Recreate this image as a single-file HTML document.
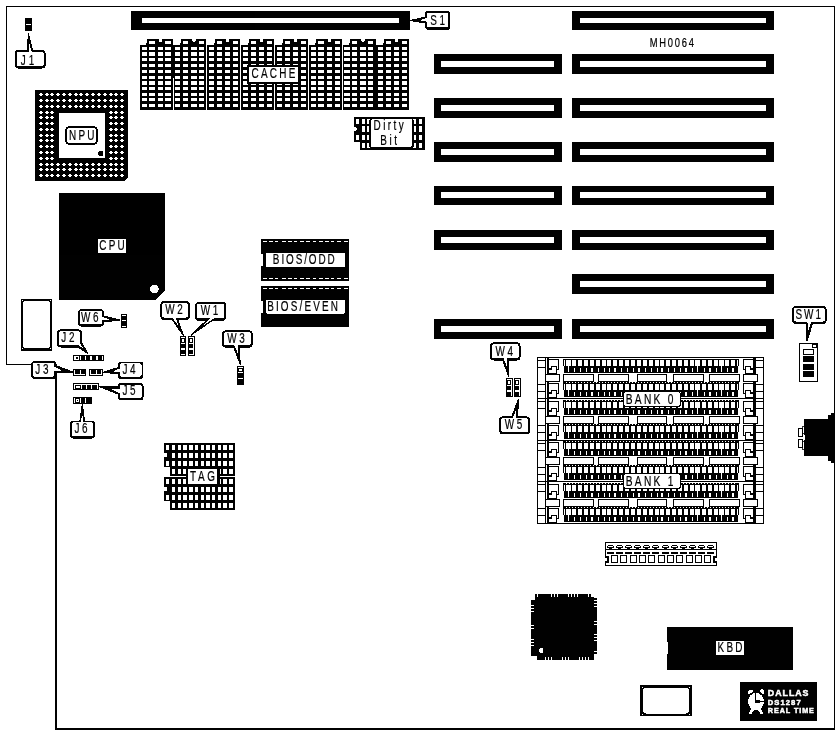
<!DOCTYPE html>
<html lang="en"><head><meta charset="utf-8"><title>MH0064 motherboard layout</title>
<style>html,body{margin:0;padding:0;background:#fff}svg{display:block;will-change:transform;opacity:0.9999}text{white-space:pre}</style>
</head><body>
<svg width="840" height="735" viewBox="0 0 840 735">
<rect width="840" height="735" fill="#fff"/>
<g shape-rendering="crispEdges">
<rect x="6" y="6" width="829" height="1" fill="#000" />
<rect x="6" y="6" width="1" height="359" fill="#000" />
<rect x="6" y="364" width="50" height="1" fill="#000" />
<rect x="55" y="364" width="2" height="366" fill="#000" />
<rect x="55" y="728" width="780" height="2" fill="#000" />
<rect x="834" y="6" width="1" height="724" fill="#000" />
<rect x="131" y="11" width="279" height="19" fill="#000" />
<rect x="142" y="18" width="257" height="5" fill="#fff" />
<rect x="434" y="54" width="128" height="20" fill="#000" />
<rect x="441" y="61" width="113" height="6" fill="#fff" />
<rect x="434" y="98" width="128" height="20" fill="#000" />
<rect x="441" y="105" width="113" height="6" fill="#fff" />
<rect x="434" y="142" width="128" height="20" fill="#000" />
<rect x="441" y="149" width="113" height="6" fill="#fff" />
<rect x="434" y="186" width="128" height="19" fill="#000" />
<rect x="441" y="192" width="113" height="6" fill="#fff" />
<rect x="434" y="230" width="128" height="20" fill="#000" />
<rect x="441" y="237" width="113" height="6" fill="#fff" />
<rect x="434" y="319" width="128" height="20" fill="#000" />
<rect x="441" y="326" width="113" height="6" fill="#fff" />
<rect x="572" y="11" width="202" height="19" fill="#000" />
<rect x="580" y="18" width="186" height="5" fill="#fff" />
<rect x="572" y="54" width="202" height="20" fill="#000" />
<rect x="580" y="61" width="186" height="6" fill="#fff" />
<rect x="572" y="98" width="202" height="20" fill="#000" />
<rect x="580" y="105" width="186" height="6" fill="#fff" />
<rect x="572" y="142" width="202" height="20" fill="#000" />
<rect x="580" y="149" width="186" height="6" fill="#fff" />
<rect x="572" y="186" width="202" height="19" fill="#000" />
<rect x="580" y="192" width="186" height="6" fill="#fff" />
<rect x="572" y="230" width="202" height="20" fill="#000" />
<rect x="580" y="237" width="186" height="6" fill="#fff" />
<rect x="572" y="274" width="202" height="20" fill="#000" />
<rect x="580" y="281" width="186" height="6" fill="#fff" />
<rect x="572" y="319" width="202" height="20" fill="#000" />
<rect x="580" y="326" width="186" height="6" fill="#fff" />
<rect x="140" y="45" width="269" height="65" fill="#000" />
<path d="M146,46 V43 H147 V39 H159 V40 L159.5,42 H161.5 L162,40 V39 H173 V46 Z" fill="#000"/>
<rect x="142" y="47" width="5" height="3" fill="#fff" />
<rect x="142" y="52" width="5" height="4" fill="#fff" />
<rect x="142" y="58" width="5" height="3" fill="#fff" />
<rect x="142" y="64" width="5" height="3" fill="#fff" />
<rect x="142" y="70" width="5" height="3" fill="#fff" />
<rect x="142" y="76" width="5" height="3" fill="#fff" />
<rect x="142" y="81" width="5" height="4" fill="#fff" />
<rect x="142" y="87" width="5" height="3" fill="#fff" />
<rect x="142" y="93" width="5" height="3" fill="#fff" />
<rect x="142" y="98" width="5" height="3" fill="#fff" />
<rect x="142" y="104" width="5" height="3" fill="#fff" />
<rect x="149" y="47" width="6" height="3" fill="#fff" />
<rect x="149" y="52" width="6" height="4" fill="#fff" />
<rect x="149" y="58" width="6" height="3" fill="#fff" />
<rect x="149" y="64" width="6" height="3" fill="#fff" />
<rect x="149" y="70" width="6" height="3" fill="#fff" />
<rect x="149" y="76" width="6" height="3" fill="#fff" />
<rect x="149" y="81" width="6" height="4" fill="#fff" />
<rect x="149" y="87" width="6" height="3" fill="#fff" />
<rect x="149" y="93" width="6" height="3" fill="#fff" />
<rect x="149" y="98" width="6" height="3" fill="#fff" />
<rect x="149" y="104" width="6" height="3" fill="#fff" />
<rect x="149" y="41" width="6" height="3" fill="#fff" />
<rect x="158" y="47" width="5" height="3" fill="#fff" />
<rect x="158" y="52" width="5" height="4" fill="#fff" />
<rect x="158" y="58" width="5" height="3" fill="#fff" />
<rect x="158" y="64" width="5" height="3" fill="#fff" />
<rect x="158" y="70" width="5" height="3" fill="#fff" />
<rect x="158" y="76" width="5" height="3" fill="#fff" />
<rect x="158" y="81" width="5" height="4" fill="#fff" />
<rect x="158" y="87" width="5" height="3" fill="#fff" />
<rect x="158" y="93" width="5" height="3" fill="#fff" />
<rect x="158" y="98" width="5" height="3" fill="#fff" />
<rect x="158" y="104" width="5" height="3" fill="#fff" />
<rect x="165" y="47" width="6" height="3" fill="#fff" />
<rect x="165" y="52" width="6" height="4" fill="#fff" />
<rect x="165" y="58" width="6" height="3" fill="#fff" />
<rect x="165" y="64" width="6" height="3" fill="#fff" />
<rect x="165" y="70" width="6" height="3" fill="#fff" />
<rect x="165" y="76" width="6" height="3" fill="#fff" />
<rect x="165" y="81" width="6" height="4" fill="#fff" />
<rect x="165" y="87" width="6" height="3" fill="#fff" />
<rect x="165" y="93" width="6" height="3" fill="#fff" />
<rect x="165" y="98" width="6" height="3" fill="#fff" />
<rect x="165" y="104" width="6" height="3" fill="#fff" />
<rect x="165" y="41" width="6" height="3" fill="#fff" />
<path d="M180,46 V43 H181 V39 H192 V40 L193.0,42 H195.0 L196,40 V39 H206 V46 Z" fill="#000"/>
<rect x="175" y="47" width="5" height="3" fill="#fff" />
<rect x="175" y="52" width="5" height="4" fill="#fff" />
<rect x="175" y="58" width="5" height="3" fill="#fff" />
<rect x="175" y="64" width="5" height="3" fill="#fff" />
<rect x="175" y="70" width="5" height="3" fill="#fff" />
<rect x="175" y="76" width="5" height="3" fill="#fff" />
<rect x="175" y="81" width="5" height="4" fill="#fff" />
<rect x="175" y="87" width="5" height="3" fill="#fff" />
<rect x="175" y="93" width="5" height="3" fill="#fff" />
<rect x="175" y="98" width="5" height="3" fill="#fff" />
<rect x="175" y="104" width="5" height="3" fill="#fff" />
<rect x="183" y="47" width="5" height="3" fill="#fff" />
<rect x="183" y="52" width="5" height="4" fill="#fff" />
<rect x="183" y="58" width="5" height="3" fill="#fff" />
<rect x="183" y="64" width="5" height="3" fill="#fff" />
<rect x="183" y="70" width="5" height="3" fill="#fff" />
<rect x="183" y="76" width="5" height="3" fill="#fff" />
<rect x="183" y="81" width="5" height="4" fill="#fff" />
<rect x="183" y="87" width="5" height="3" fill="#fff" />
<rect x="183" y="93" width="5" height="3" fill="#fff" />
<rect x="183" y="98" width="5" height="3" fill="#fff" />
<rect x="183" y="104" width="5" height="3" fill="#fff" />
<rect x="183" y="41" width="5" height="3" fill="#fff" />
<rect x="191" y="47" width="6" height="3" fill="#fff" />
<rect x="191" y="52" width="6" height="4" fill="#fff" />
<rect x="191" y="58" width="6" height="3" fill="#fff" />
<rect x="191" y="64" width="6" height="3" fill="#fff" />
<rect x="191" y="70" width="6" height="3" fill="#fff" />
<rect x="191" y="76" width="6" height="3" fill="#fff" />
<rect x="191" y="81" width="6" height="4" fill="#fff" />
<rect x="191" y="87" width="6" height="3" fill="#fff" />
<rect x="191" y="93" width="6" height="3" fill="#fff" />
<rect x="191" y="98" width="6" height="3" fill="#fff" />
<rect x="191" y="104" width="6" height="3" fill="#fff" />
<rect x="199" y="47" width="5" height="3" fill="#fff" />
<rect x="199" y="52" width="5" height="4" fill="#fff" />
<rect x="199" y="58" width="5" height="3" fill="#fff" />
<rect x="199" y="64" width="5" height="3" fill="#fff" />
<rect x="199" y="70" width="5" height="3" fill="#fff" />
<rect x="199" y="76" width="5" height="3" fill="#fff" />
<rect x="199" y="81" width="5" height="4" fill="#fff" />
<rect x="199" y="87" width="5" height="3" fill="#fff" />
<rect x="199" y="93" width="5" height="3" fill="#fff" />
<rect x="199" y="98" width="5" height="3" fill="#fff" />
<rect x="199" y="104" width="5" height="3" fill="#fff" />
<rect x="199" y="41" width="5" height="3" fill="#fff" />
<path d="M214,46 V43 H215 V39 H226 V40 L226.5,42 H228.5 L229,40 V39 H240 V46 Z" fill="#000"/>
<rect x="209" y="47" width="5" height="3" fill="#fff" />
<rect x="209" y="52" width="5" height="4" fill="#fff" />
<rect x="209" y="58" width="5" height="3" fill="#fff" />
<rect x="209" y="64" width="5" height="3" fill="#fff" />
<rect x="209" y="70" width="5" height="3" fill="#fff" />
<rect x="209" y="76" width="5" height="3" fill="#fff" />
<rect x="209" y="81" width="5" height="4" fill="#fff" />
<rect x="209" y="87" width="5" height="3" fill="#fff" />
<rect x="209" y="93" width="5" height="3" fill="#fff" />
<rect x="209" y="98" width="5" height="3" fill="#fff" />
<rect x="209" y="104" width="5" height="3" fill="#fff" />
<rect x="217" y="47" width="5" height="3" fill="#fff" />
<rect x="217" y="52" width="5" height="4" fill="#fff" />
<rect x="217" y="58" width="5" height="3" fill="#fff" />
<rect x="217" y="64" width="5" height="3" fill="#fff" />
<rect x="217" y="70" width="5" height="3" fill="#fff" />
<rect x="217" y="76" width="5" height="3" fill="#fff" />
<rect x="217" y="81" width="5" height="4" fill="#fff" />
<rect x="217" y="87" width="5" height="3" fill="#fff" />
<rect x="217" y="93" width="5" height="3" fill="#fff" />
<rect x="217" y="98" width="5" height="3" fill="#fff" />
<rect x="217" y="104" width="5" height="3" fill="#fff" />
<rect x="217" y="41" width="5" height="3" fill="#fff" />
<rect x="225" y="47" width="5" height="3" fill="#fff" />
<rect x="225" y="52" width="5" height="4" fill="#fff" />
<rect x="225" y="58" width="5" height="3" fill="#fff" />
<rect x="225" y="64" width="5" height="3" fill="#fff" />
<rect x="225" y="70" width="5" height="3" fill="#fff" />
<rect x="225" y="76" width="5" height="3" fill="#fff" />
<rect x="225" y="81" width="5" height="4" fill="#fff" />
<rect x="225" y="87" width="5" height="3" fill="#fff" />
<rect x="225" y="93" width="5" height="3" fill="#fff" />
<rect x="225" y="98" width="5" height="3" fill="#fff" />
<rect x="225" y="104" width="5" height="3" fill="#fff" />
<rect x="233" y="47" width="5" height="3" fill="#fff" />
<rect x="233" y="52" width="5" height="4" fill="#fff" />
<rect x="233" y="58" width="5" height="3" fill="#fff" />
<rect x="233" y="64" width="5" height="3" fill="#fff" />
<rect x="233" y="70" width="5" height="3" fill="#fff" />
<rect x="233" y="76" width="5" height="3" fill="#fff" />
<rect x="233" y="81" width="5" height="4" fill="#fff" />
<rect x="233" y="87" width="5" height="3" fill="#fff" />
<rect x="233" y="93" width="5" height="3" fill="#fff" />
<rect x="233" y="98" width="5" height="3" fill="#fff" />
<rect x="233" y="104" width="5" height="3" fill="#fff" />
<rect x="233" y="41" width="5" height="3" fill="#fff" />
<path d="M248,46 V43 H249 V39 H260 V40 L260.5,42 H262.5 L263,40 V39 H274 V46 Z" fill="#000"/>
<rect x="243" y="47" width="5" height="3" fill="#fff" />
<rect x="243" y="52" width="5" height="4" fill="#fff" />
<rect x="243" y="58" width="5" height="3" fill="#fff" />
<rect x="243" y="64" width="5" height="3" fill="#fff" />
<rect x="243" y="70" width="5" height="3" fill="#fff" />
<rect x="243" y="76" width="5" height="3" fill="#fff" />
<rect x="243" y="81" width="5" height="4" fill="#fff" />
<rect x="243" y="87" width="5" height="3" fill="#fff" />
<rect x="243" y="93" width="5" height="3" fill="#fff" />
<rect x="243" y="98" width="5" height="3" fill="#fff" />
<rect x="243" y="104" width="5" height="3" fill="#fff" />
<rect x="251" y="47" width="5" height="3" fill="#fff" />
<rect x="251" y="52" width="5" height="4" fill="#fff" />
<rect x="251" y="58" width="5" height="3" fill="#fff" />
<rect x="251" y="64" width="5" height="3" fill="#fff" />
<rect x="251" y="70" width="5" height="3" fill="#fff" />
<rect x="251" y="76" width="5" height="3" fill="#fff" />
<rect x="251" y="81" width="5" height="4" fill="#fff" />
<rect x="251" y="87" width="5" height="3" fill="#fff" />
<rect x="251" y="93" width="5" height="3" fill="#fff" />
<rect x="251" y="98" width="5" height="3" fill="#fff" />
<rect x="251" y="104" width="5" height="3" fill="#fff" />
<rect x="251" y="41" width="5" height="3" fill="#fff" />
<rect x="259" y="47" width="5" height="3" fill="#fff" />
<rect x="259" y="52" width="5" height="4" fill="#fff" />
<rect x="259" y="58" width="5" height="3" fill="#fff" />
<rect x="259" y="64" width="5" height="3" fill="#fff" />
<rect x="259" y="70" width="5" height="3" fill="#fff" />
<rect x="259" y="76" width="5" height="3" fill="#fff" />
<rect x="259" y="81" width="5" height="4" fill="#fff" />
<rect x="259" y="87" width="5" height="3" fill="#fff" />
<rect x="259" y="93" width="5" height="3" fill="#fff" />
<rect x="259" y="98" width="5" height="3" fill="#fff" />
<rect x="259" y="104" width="5" height="3" fill="#fff" />
<rect x="267" y="47" width="5" height="3" fill="#fff" />
<rect x="267" y="52" width="5" height="4" fill="#fff" />
<rect x="267" y="58" width="5" height="3" fill="#fff" />
<rect x="267" y="64" width="5" height="3" fill="#fff" />
<rect x="267" y="70" width="5" height="3" fill="#fff" />
<rect x="267" y="76" width="5" height="3" fill="#fff" />
<rect x="267" y="81" width="5" height="4" fill="#fff" />
<rect x="267" y="87" width="5" height="3" fill="#fff" />
<rect x="267" y="93" width="5" height="3" fill="#fff" />
<rect x="267" y="98" width="5" height="3" fill="#fff" />
<rect x="267" y="104" width="5" height="3" fill="#fff" />
<rect x="267" y="41" width="5" height="3" fill="#fff" />
<path d="M282,46 V43 H283 V39 H294 V40 L294.5,42 H296.5 L297,40 V39 H308 V46 Z" fill="#000"/>
<rect x="277" y="47" width="5" height="3" fill="#fff" />
<rect x="277" y="52" width="5" height="4" fill="#fff" />
<rect x="277" y="58" width="5" height="3" fill="#fff" />
<rect x="277" y="64" width="5" height="3" fill="#fff" />
<rect x="277" y="70" width="5" height="3" fill="#fff" />
<rect x="277" y="76" width="5" height="3" fill="#fff" />
<rect x="277" y="81" width="5" height="4" fill="#fff" />
<rect x="277" y="87" width="5" height="3" fill="#fff" />
<rect x="277" y="93" width="5" height="3" fill="#fff" />
<rect x="277" y="98" width="5" height="3" fill="#fff" />
<rect x="277" y="104" width="5" height="3" fill="#fff" />
<rect x="285" y="47" width="5" height="3" fill="#fff" />
<rect x="285" y="52" width="5" height="4" fill="#fff" />
<rect x="285" y="58" width="5" height="3" fill="#fff" />
<rect x="285" y="64" width="5" height="3" fill="#fff" />
<rect x="285" y="70" width="5" height="3" fill="#fff" />
<rect x="285" y="76" width="5" height="3" fill="#fff" />
<rect x="285" y="81" width="5" height="4" fill="#fff" />
<rect x="285" y="87" width="5" height="3" fill="#fff" />
<rect x="285" y="93" width="5" height="3" fill="#fff" />
<rect x="285" y="98" width="5" height="3" fill="#fff" />
<rect x="285" y="104" width="5" height="3" fill="#fff" />
<rect x="285" y="41" width="5" height="3" fill="#fff" />
<rect x="293" y="47" width="5" height="3" fill="#fff" />
<rect x="293" y="52" width="5" height="4" fill="#fff" />
<rect x="293" y="58" width="5" height="3" fill="#fff" />
<rect x="293" y="64" width="5" height="3" fill="#fff" />
<rect x="293" y="70" width="5" height="3" fill="#fff" />
<rect x="293" y="76" width="5" height="3" fill="#fff" />
<rect x="293" y="81" width="5" height="4" fill="#fff" />
<rect x="293" y="87" width="5" height="3" fill="#fff" />
<rect x="293" y="93" width="5" height="3" fill="#fff" />
<rect x="293" y="98" width="5" height="3" fill="#fff" />
<rect x="293" y="104" width="5" height="3" fill="#fff" />
<rect x="301" y="47" width="5" height="3" fill="#fff" />
<rect x="301" y="52" width="5" height="4" fill="#fff" />
<rect x="301" y="58" width="5" height="3" fill="#fff" />
<rect x="301" y="64" width="5" height="3" fill="#fff" />
<rect x="301" y="70" width="5" height="3" fill="#fff" />
<rect x="301" y="76" width="5" height="3" fill="#fff" />
<rect x="301" y="81" width="5" height="4" fill="#fff" />
<rect x="301" y="87" width="5" height="3" fill="#fff" />
<rect x="301" y="93" width="5" height="3" fill="#fff" />
<rect x="301" y="98" width="5" height="3" fill="#fff" />
<rect x="301" y="104" width="5" height="3" fill="#fff" />
<rect x="301" y="41" width="5" height="3" fill="#fff" />
<path d="M315,46 V43 H316 V39 H328 V40 L328.5,42 H330.5 L331,40 V39 H342 V46 Z" fill="#000"/>
<rect x="311" y="47" width="5" height="3" fill="#fff" />
<rect x="311" y="52" width="5" height="4" fill="#fff" />
<rect x="311" y="58" width="5" height="3" fill="#fff" />
<rect x="311" y="64" width="5" height="3" fill="#fff" />
<rect x="311" y="70" width="5" height="3" fill="#fff" />
<rect x="311" y="76" width="5" height="3" fill="#fff" />
<rect x="311" y="81" width="5" height="4" fill="#fff" />
<rect x="311" y="87" width="5" height="3" fill="#fff" />
<rect x="311" y="93" width="5" height="3" fill="#fff" />
<rect x="311" y="98" width="5" height="3" fill="#fff" />
<rect x="311" y="104" width="5" height="3" fill="#fff" />
<rect x="318" y="47" width="6" height="3" fill="#fff" />
<rect x="318" y="52" width="6" height="4" fill="#fff" />
<rect x="318" y="58" width="6" height="3" fill="#fff" />
<rect x="318" y="64" width="6" height="3" fill="#fff" />
<rect x="318" y="70" width="6" height="3" fill="#fff" />
<rect x="318" y="76" width="6" height="3" fill="#fff" />
<rect x="318" y="81" width="6" height="4" fill="#fff" />
<rect x="318" y="87" width="6" height="3" fill="#fff" />
<rect x="318" y="93" width="6" height="3" fill="#fff" />
<rect x="318" y="98" width="6" height="3" fill="#fff" />
<rect x="318" y="104" width="6" height="3" fill="#fff" />
<rect x="318" y="41" width="6" height="3" fill="#fff" />
<rect x="327" y="47" width="5" height="3" fill="#fff" />
<rect x="327" y="52" width="5" height="4" fill="#fff" />
<rect x="327" y="58" width="5" height="3" fill="#fff" />
<rect x="327" y="64" width="5" height="3" fill="#fff" />
<rect x="327" y="70" width="5" height="3" fill="#fff" />
<rect x="327" y="76" width="5" height="3" fill="#fff" />
<rect x="327" y="81" width="5" height="4" fill="#fff" />
<rect x="327" y="87" width="5" height="3" fill="#fff" />
<rect x="327" y="93" width="5" height="3" fill="#fff" />
<rect x="327" y="98" width="5" height="3" fill="#fff" />
<rect x="327" y="104" width="5" height="3" fill="#fff" />
<rect x="335" y="47" width="5" height="3" fill="#fff" />
<rect x="335" y="52" width="5" height="4" fill="#fff" />
<rect x="335" y="58" width="5" height="3" fill="#fff" />
<rect x="335" y="64" width="5" height="3" fill="#fff" />
<rect x="335" y="70" width="5" height="3" fill="#fff" />
<rect x="335" y="76" width="5" height="3" fill="#fff" />
<rect x="335" y="81" width="5" height="4" fill="#fff" />
<rect x="335" y="87" width="5" height="3" fill="#fff" />
<rect x="335" y="93" width="5" height="3" fill="#fff" />
<rect x="335" y="98" width="5" height="3" fill="#fff" />
<rect x="335" y="104" width="5" height="3" fill="#fff" />
<rect x="335" y="41" width="5" height="3" fill="#fff" />
<path d="M349,46 V43 H350 V39 H361 V40 L362.0,42 H364.0 L365,40 V39 H376 V46 Z" fill="#000"/>
<rect x="344" y="47" width="6" height="3" fill="#fff" />
<rect x="344" y="52" width="6" height="4" fill="#fff" />
<rect x="344" y="58" width="6" height="3" fill="#fff" />
<rect x="344" y="64" width="6" height="3" fill="#fff" />
<rect x="344" y="70" width="6" height="3" fill="#fff" />
<rect x="344" y="76" width="6" height="3" fill="#fff" />
<rect x="344" y="81" width="6" height="4" fill="#fff" />
<rect x="344" y="87" width="6" height="3" fill="#fff" />
<rect x="344" y="93" width="6" height="3" fill="#fff" />
<rect x="344" y="98" width="6" height="3" fill="#fff" />
<rect x="344" y="104" width="6" height="3" fill="#fff" />
<rect x="352" y="47" width="5" height="3" fill="#fff" />
<rect x="352" y="52" width="5" height="4" fill="#fff" />
<rect x="352" y="58" width="5" height="3" fill="#fff" />
<rect x="352" y="64" width="5" height="3" fill="#fff" />
<rect x="352" y="70" width="5" height="3" fill="#fff" />
<rect x="352" y="76" width="5" height="3" fill="#fff" />
<rect x="352" y="81" width="5" height="4" fill="#fff" />
<rect x="352" y="87" width="5" height="3" fill="#fff" />
<rect x="352" y="93" width="5" height="3" fill="#fff" />
<rect x="352" y="98" width="5" height="3" fill="#fff" />
<rect x="352" y="104" width="5" height="3" fill="#fff" />
<rect x="352" y="41" width="5" height="3" fill="#fff" />
<rect x="360" y="47" width="6" height="3" fill="#fff" />
<rect x="360" y="52" width="6" height="4" fill="#fff" />
<rect x="360" y="58" width="6" height="3" fill="#fff" />
<rect x="360" y="64" width="6" height="3" fill="#fff" />
<rect x="360" y="70" width="6" height="3" fill="#fff" />
<rect x="360" y="76" width="6" height="3" fill="#fff" />
<rect x="360" y="81" width="6" height="4" fill="#fff" />
<rect x="360" y="87" width="6" height="3" fill="#fff" />
<rect x="360" y="93" width="6" height="3" fill="#fff" />
<rect x="360" y="98" width="6" height="3" fill="#fff" />
<rect x="360" y="104" width="6" height="3" fill="#fff" />
<rect x="368" y="47" width="5" height="3" fill="#fff" />
<rect x="368" y="52" width="5" height="4" fill="#fff" />
<rect x="368" y="58" width="5" height="3" fill="#fff" />
<rect x="368" y="64" width="5" height="3" fill="#fff" />
<rect x="368" y="70" width="5" height="3" fill="#fff" />
<rect x="368" y="76" width="5" height="3" fill="#fff" />
<rect x="368" y="81" width="5" height="4" fill="#fff" />
<rect x="368" y="87" width="5" height="3" fill="#fff" />
<rect x="368" y="93" width="5" height="3" fill="#fff" />
<rect x="368" y="98" width="5" height="3" fill="#fff" />
<rect x="368" y="104" width="5" height="3" fill="#fff" />
<rect x="368" y="41" width="5" height="3" fill="#fff" />
<path d="M383,46 V43 H384 V39 H395 V40 L395.5,42 H397.5 L398,40 V39 H409 V46 Z" fill="#000"/>
<rect x="378" y="47" width="5" height="3" fill="#fff" />
<rect x="378" y="52" width="5" height="4" fill="#fff" />
<rect x="378" y="58" width="5" height="3" fill="#fff" />
<rect x="378" y="64" width="5" height="3" fill="#fff" />
<rect x="378" y="70" width="5" height="3" fill="#fff" />
<rect x="378" y="76" width="5" height="3" fill="#fff" />
<rect x="378" y="81" width="5" height="4" fill="#fff" />
<rect x="378" y="87" width="5" height="3" fill="#fff" />
<rect x="378" y="93" width="5" height="3" fill="#fff" />
<rect x="378" y="98" width="5" height="3" fill="#fff" />
<rect x="378" y="104" width="5" height="3" fill="#fff" />
<rect x="386" y="47" width="5" height="3" fill="#fff" />
<rect x="386" y="52" width="5" height="4" fill="#fff" />
<rect x="386" y="58" width="5" height="3" fill="#fff" />
<rect x="386" y="64" width="5" height="3" fill="#fff" />
<rect x="386" y="70" width="5" height="3" fill="#fff" />
<rect x="386" y="76" width="5" height="3" fill="#fff" />
<rect x="386" y="81" width="5" height="4" fill="#fff" />
<rect x="386" y="87" width="5" height="3" fill="#fff" />
<rect x="386" y="93" width="5" height="3" fill="#fff" />
<rect x="386" y="98" width="5" height="3" fill="#fff" />
<rect x="386" y="104" width="5" height="3" fill="#fff" />
<rect x="386" y="41" width="5" height="3" fill="#fff" />
<rect x="394" y="47" width="5" height="3" fill="#fff" />
<rect x="394" y="52" width="5" height="4" fill="#fff" />
<rect x="394" y="58" width="5" height="3" fill="#fff" />
<rect x="394" y="64" width="5" height="3" fill="#fff" />
<rect x="394" y="70" width="5" height="3" fill="#fff" />
<rect x="394" y="76" width="5" height="3" fill="#fff" />
<rect x="394" y="81" width="5" height="4" fill="#fff" />
<rect x="394" y="87" width="5" height="3" fill="#fff" />
<rect x="394" y="93" width="5" height="3" fill="#fff" />
<rect x="394" y="98" width="5" height="3" fill="#fff" />
<rect x="394" y="104" width="5" height="3" fill="#fff" />
<rect x="402" y="47" width="5" height="3" fill="#fff" />
<rect x="402" y="52" width="5" height="4" fill="#fff" />
<rect x="402" y="58" width="5" height="3" fill="#fff" />
<rect x="402" y="64" width="5" height="3" fill="#fff" />
<rect x="402" y="70" width="5" height="3" fill="#fff" />
<rect x="402" y="76" width="5" height="3" fill="#fff" />
<rect x="402" y="81" width="5" height="4" fill="#fff" />
<rect x="402" y="87" width="5" height="3" fill="#fff" />
<rect x="402" y="93" width="5" height="3" fill="#fff" />
<rect x="402" y="98" width="5" height="3" fill="#fff" />
<rect x="402" y="104" width="5" height="3" fill="#fff" />
<rect x="402" y="41" width="5" height="3" fill="#fff" />
<rect x="173" y="78" width="1" height="32" fill="#fff" />
<rect x="206" y="45" width="1" height="65" fill="#fff" />
<rect x="240" y="45" width="1" height="65" fill="#fff" />
<rect x="274" y="45" width="1" height="65" fill="#fff" />
<rect x="308" y="45" width="1" height="65" fill="#fff" />
<rect x="342" y="45" width="1" height="65" fill="#fff" />
<rect x="247" y="65" width="53" height="19" fill="#000" />
<rect x="249" y="67" width="49" height="15" fill="#fff" />
<text transform="translate(274.55,78) scale(0.72,1)" font-family="Liberation Sans, Arial, Helvetica, sans-serif" font-size="13.8" letter-spacing="3.19" text-anchor="middle" fill="#000" font-weight="normal" stroke="#000" stroke-width="0.2">CACHE</text>
<path d="M35,90 H128 V177.5 L124.5,181 H35 Z" fill="#000"/>
<rect x="39" y="94" width="4" height="1" fill="#fff" />
<rect x="40" y="93" width="2" height="3" fill="#fff" />
<rect x="39" y="100" width="4" height="1" fill="#fff" />
<rect x="40" y="99" width="2" height="3" fill="#fff" />
<rect x="39" y="106" width="4" height="1" fill="#fff" />
<rect x="40" y="105" width="2" height="3" fill="#fff" />
<rect x="39" y="112" width="4" height="1" fill="#fff" />
<rect x="40" y="111" width="2" height="3" fill="#fff" />
<rect x="39" y="117" width="4" height="1" fill="#fff" />
<rect x="40" y="116" width="2" height="3" fill="#fff" />
<rect x="39" y="123" width="4" height="1" fill="#fff" />
<rect x="40" y="122" width="2" height="3" fill="#fff" />
<rect x="39" y="129" width="4" height="1" fill="#fff" />
<rect x="40" y="128" width="2" height="3" fill="#fff" />
<rect x="39" y="135" width="4" height="1" fill="#fff" />
<rect x="40" y="134" width="2" height="3" fill="#fff" />
<rect x="39" y="140" width="4" height="1" fill="#fff" />
<rect x="40" y="139" width="2" height="3" fill="#fff" />
<rect x="39" y="146" width="4" height="1" fill="#fff" />
<rect x="40" y="145" width="2" height="3" fill="#fff" />
<rect x="39" y="152" width="4" height="1" fill="#fff" />
<rect x="40" y="151" width="2" height="3" fill="#fff" />
<rect x="39" y="158" width="4" height="1" fill="#fff" />
<rect x="40" y="157" width="2" height="3" fill="#fff" />
<rect x="39" y="164" width="4" height="1" fill="#fff" />
<rect x="40" y="163" width="2" height="3" fill="#fff" />
<rect x="39" y="169" width="4" height="1" fill="#fff" />
<rect x="40" y="168" width="2" height="3" fill="#fff" />
<rect x="39" y="175" width="4" height="1" fill="#fff" />
<rect x="40" y="174" width="2" height="3" fill="#fff" />
<rect x="45" y="94" width="4" height="1" fill="#fff" />
<rect x="46" y="93" width="2" height="3" fill="#fff" />
<rect x="45" y="100" width="4" height="1" fill="#fff" />
<rect x="46" y="99" width="2" height="3" fill="#fff" />
<rect x="45" y="106" width="4" height="1" fill="#fff" />
<rect x="46" y="105" width="2" height="3" fill="#fff" />
<rect x="45" y="112" width="4" height="1" fill="#fff" />
<rect x="46" y="111" width="2" height="3" fill="#fff" />
<rect x="45" y="117" width="4" height="1" fill="#fff" />
<rect x="46" y="116" width="2" height="3" fill="#fff" />
<rect x="45" y="123" width="4" height="1" fill="#fff" />
<rect x="46" y="122" width="2" height="3" fill="#fff" />
<rect x="45" y="129" width="4" height="1" fill="#fff" />
<rect x="46" y="128" width="2" height="3" fill="#fff" />
<rect x="45" y="135" width="4" height="1" fill="#fff" />
<rect x="46" y="134" width="2" height="3" fill="#fff" />
<rect x="45" y="140" width="4" height="1" fill="#fff" />
<rect x="46" y="139" width="2" height="3" fill="#fff" />
<rect x="45" y="146" width="4" height="1" fill="#fff" />
<rect x="46" y="145" width="2" height="3" fill="#fff" />
<rect x="45" y="152" width="4" height="1" fill="#fff" />
<rect x="46" y="151" width="2" height="3" fill="#fff" />
<rect x="45" y="158" width="4" height="1" fill="#fff" />
<rect x="46" y="157" width="2" height="3" fill="#fff" />
<rect x="45" y="164" width="4" height="1" fill="#fff" />
<rect x="46" y="163" width="2" height="3" fill="#fff" />
<rect x="45" y="169" width="4" height="1" fill="#fff" />
<rect x="46" y="168" width="2" height="3" fill="#fff" />
<rect x="45" y="175" width="4" height="1" fill="#fff" />
<rect x="46" y="174" width="2" height="3" fill="#fff" />
<rect x="50" y="94" width="4" height="1" fill="#fff" />
<rect x="51" y="93" width="2" height="3" fill="#fff" />
<rect x="50" y="100" width="4" height="1" fill="#fff" />
<rect x="51" y="99" width="2" height="3" fill="#fff" />
<rect x="50" y="106" width="4" height="1" fill="#fff" />
<rect x="51" y="105" width="2" height="3" fill="#fff" />
<rect x="50" y="112" width="4" height="1" fill="#fff" />
<rect x="51" y="111" width="2" height="3" fill="#fff" />
<rect x="50" y="117" width="4" height="1" fill="#fff" />
<rect x="51" y="116" width="2" height="3" fill="#fff" />
<rect x="50" y="123" width="4" height="1" fill="#fff" />
<rect x="51" y="122" width="2" height="3" fill="#fff" />
<rect x="50" y="129" width="4" height="1" fill="#fff" />
<rect x="51" y="128" width="2" height="3" fill="#fff" />
<rect x="50" y="135" width="4" height="1" fill="#fff" />
<rect x="51" y="134" width="2" height="3" fill="#fff" />
<rect x="50" y="140" width="4" height="1" fill="#fff" />
<rect x="51" y="139" width="2" height="3" fill="#fff" />
<rect x="50" y="146" width="4" height="1" fill="#fff" />
<rect x="51" y="145" width="2" height="3" fill="#fff" />
<rect x="50" y="152" width="4" height="1" fill="#fff" />
<rect x="51" y="151" width="2" height="3" fill="#fff" />
<rect x="50" y="158" width="4" height="1" fill="#fff" />
<rect x="51" y="157" width="2" height="3" fill="#fff" />
<rect x="50" y="164" width="4" height="1" fill="#fff" />
<rect x="51" y="163" width="2" height="3" fill="#fff" />
<rect x="50" y="169" width="4" height="1" fill="#fff" />
<rect x="51" y="168" width="2" height="3" fill="#fff" />
<rect x="50" y="175" width="4" height="1" fill="#fff" />
<rect x="51" y="174" width="2" height="3" fill="#fff" />
<rect x="56" y="94" width="4" height="1" fill="#fff" />
<rect x="57" y="93" width="2" height="3" fill="#fff" />
<rect x="56" y="100" width="4" height="1" fill="#fff" />
<rect x="57" y="99" width="2" height="3" fill="#fff" />
<rect x="56" y="106" width="4" height="1" fill="#fff" />
<rect x="57" y="105" width="2" height="3" fill="#fff" />
<rect x="56" y="164" width="4" height="1" fill="#fff" />
<rect x="57" y="163" width="2" height="3" fill="#fff" />
<rect x="56" y="169" width="4" height="1" fill="#fff" />
<rect x="57" y="168" width="2" height="3" fill="#fff" />
<rect x="56" y="175" width="4" height="1" fill="#fff" />
<rect x="57" y="174" width="2" height="3" fill="#fff" />
<rect x="62" y="94" width="4" height="1" fill="#fff" />
<rect x="63" y="93" width="2" height="3" fill="#fff" />
<rect x="62" y="100" width="4" height="1" fill="#fff" />
<rect x="63" y="99" width="2" height="3" fill="#fff" />
<rect x="62" y="106" width="4" height="1" fill="#fff" />
<rect x="63" y="105" width="2" height="3" fill="#fff" />
<rect x="62" y="164" width="4" height="1" fill="#fff" />
<rect x="63" y="163" width="2" height="3" fill="#fff" />
<rect x="62" y="169" width="4" height="1" fill="#fff" />
<rect x="63" y="168" width="2" height="3" fill="#fff" />
<rect x="62" y="175" width="4" height="1" fill="#fff" />
<rect x="63" y="174" width="2" height="3" fill="#fff" />
<rect x="68" y="94" width="4" height="1" fill="#fff" />
<rect x="69" y="93" width="2" height="3" fill="#fff" />
<rect x="68" y="100" width="4" height="1" fill="#fff" />
<rect x="69" y="99" width="2" height="3" fill="#fff" />
<rect x="68" y="106" width="4" height="1" fill="#fff" />
<rect x="69" y="105" width="2" height="3" fill="#fff" />
<rect x="68" y="164" width="4" height="1" fill="#fff" />
<rect x="69" y="163" width="2" height="3" fill="#fff" />
<rect x="68" y="169" width="4" height="1" fill="#fff" />
<rect x="69" y="168" width="2" height="3" fill="#fff" />
<rect x="68" y="175" width="4" height="1" fill="#fff" />
<rect x="69" y="174" width="2" height="3" fill="#fff" />
<rect x="74" y="94" width="4" height="1" fill="#fff" />
<rect x="75" y="93" width="2" height="3" fill="#fff" />
<rect x="74" y="100" width="4" height="1" fill="#fff" />
<rect x="75" y="99" width="2" height="3" fill="#fff" />
<rect x="74" y="106" width="4" height="1" fill="#fff" />
<rect x="75" y="105" width="2" height="3" fill="#fff" />
<rect x="74" y="164" width="4" height="1" fill="#fff" />
<rect x="75" y="163" width="2" height="3" fill="#fff" />
<rect x="74" y="169" width="4" height="1" fill="#fff" />
<rect x="75" y="168" width="2" height="3" fill="#fff" />
<rect x="74" y="175" width="4" height="1" fill="#fff" />
<rect x="75" y="174" width="2" height="3" fill="#fff" />
<rect x="79" y="94" width="4" height="1" fill="#fff" />
<rect x="80" y="93" width="2" height="3" fill="#fff" />
<rect x="79" y="100" width="4" height="1" fill="#fff" />
<rect x="80" y="99" width="2" height="3" fill="#fff" />
<rect x="79" y="106" width="4" height="1" fill="#fff" />
<rect x="80" y="105" width="2" height="3" fill="#fff" />
<rect x="79" y="164" width="4" height="1" fill="#fff" />
<rect x="80" y="163" width="2" height="3" fill="#fff" />
<rect x="79" y="169" width="4" height="1" fill="#fff" />
<rect x="80" y="168" width="2" height="3" fill="#fff" />
<rect x="79" y="175" width="4" height="1" fill="#fff" />
<rect x="80" y="174" width="2" height="3" fill="#fff" />
<rect x="85" y="94" width="4" height="1" fill="#fff" />
<rect x="86" y="93" width="2" height="3" fill="#fff" />
<rect x="85" y="100" width="4" height="1" fill="#fff" />
<rect x="86" y="99" width="2" height="3" fill="#fff" />
<rect x="85" y="106" width="4" height="1" fill="#fff" />
<rect x="86" y="105" width="2" height="3" fill="#fff" />
<rect x="85" y="164" width="4" height="1" fill="#fff" />
<rect x="86" y="163" width="2" height="3" fill="#fff" />
<rect x="85" y="169" width="4" height="1" fill="#fff" />
<rect x="86" y="168" width="2" height="3" fill="#fff" />
<rect x="85" y="175" width="4" height="1" fill="#fff" />
<rect x="86" y="174" width="2" height="3" fill="#fff" />
<rect x="91" y="94" width="4" height="1" fill="#fff" />
<rect x="92" y="93" width="2" height="3" fill="#fff" />
<rect x="91" y="100" width="4" height="1" fill="#fff" />
<rect x="92" y="99" width="2" height="3" fill="#fff" />
<rect x="91" y="106" width="4" height="1" fill="#fff" />
<rect x="92" y="105" width="2" height="3" fill="#fff" />
<rect x="91" y="164" width="4" height="1" fill="#fff" />
<rect x="92" y="163" width="2" height="3" fill="#fff" />
<rect x="91" y="169" width="4" height="1" fill="#fff" />
<rect x="92" y="168" width="2" height="3" fill="#fff" />
<rect x="91" y="175" width="4" height="1" fill="#fff" />
<rect x="92" y="174" width="2" height="3" fill="#fff" />
<rect x="97" y="94" width="4" height="1" fill="#fff" />
<rect x="98" y="93" width="2" height="3" fill="#fff" />
<rect x="97" y="100" width="4" height="1" fill="#fff" />
<rect x="98" y="99" width="2" height="3" fill="#fff" />
<rect x="97" y="106" width="4" height="1" fill="#fff" />
<rect x="98" y="105" width="2" height="3" fill="#fff" />
<rect x="97" y="164" width="4" height="1" fill="#fff" />
<rect x="98" y="163" width="2" height="3" fill="#fff" />
<rect x="97" y="169" width="4" height="1" fill="#fff" />
<rect x="98" y="168" width="2" height="3" fill="#fff" />
<rect x="97" y="175" width="4" height="1" fill="#fff" />
<rect x="98" y="174" width="2" height="3" fill="#fff" />
<rect x="103" y="94" width="4" height="1" fill="#fff" />
<rect x="104" y="93" width="2" height="3" fill="#fff" />
<rect x="103" y="100" width="4" height="1" fill="#fff" />
<rect x="104" y="99" width="2" height="3" fill="#fff" />
<rect x="103" y="106" width="4" height="1" fill="#fff" />
<rect x="104" y="105" width="2" height="3" fill="#fff" />
<rect x="103" y="164" width="4" height="1" fill="#fff" />
<rect x="104" y="163" width="2" height="3" fill="#fff" />
<rect x="103" y="169" width="4" height="1" fill="#fff" />
<rect x="104" y="168" width="2" height="3" fill="#fff" />
<rect x="103" y="175" width="4" height="1" fill="#fff" />
<rect x="104" y="174" width="2" height="3" fill="#fff" />
<rect x="109" y="94" width="4" height="1" fill="#fff" />
<rect x="110" y="93" width="2" height="3" fill="#fff" />
<rect x="109" y="100" width="4" height="1" fill="#fff" />
<rect x="110" y="99" width="2" height="3" fill="#fff" />
<rect x="109" y="106" width="4" height="1" fill="#fff" />
<rect x="110" y="105" width="2" height="3" fill="#fff" />
<rect x="109" y="112" width="4" height="1" fill="#fff" />
<rect x="110" y="111" width="2" height="3" fill="#fff" />
<rect x="109" y="117" width="4" height="1" fill="#fff" />
<rect x="110" y="116" width="2" height="3" fill="#fff" />
<rect x="109" y="123" width="4" height="1" fill="#fff" />
<rect x="110" y="122" width="2" height="3" fill="#fff" />
<rect x="109" y="129" width="4" height="1" fill="#fff" />
<rect x="110" y="128" width="2" height="3" fill="#fff" />
<rect x="109" y="135" width="4" height="1" fill="#fff" />
<rect x="110" y="134" width="2" height="3" fill="#fff" />
<rect x="109" y="140" width="4" height="1" fill="#fff" />
<rect x="110" y="139" width="2" height="3" fill="#fff" />
<rect x="109" y="146" width="4" height="1" fill="#fff" />
<rect x="110" y="145" width="2" height="3" fill="#fff" />
<rect x="109" y="152" width="4" height="1" fill="#fff" />
<rect x="110" y="151" width="2" height="3" fill="#fff" />
<rect x="109" y="158" width="4" height="1" fill="#fff" />
<rect x="110" y="157" width="2" height="3" fill="#fff" />
<rect x="109" y="164" width="4" height="1" fill="#fff" />
<rect x="110" y="163" width="2" height="3" fill="#fff" />
<rect x="109" y="169" width="4" height="1" fill="#fff" />
<rect x="110" y="168" width="2" height="3" fill="#fff" />
<rect x="109" y="175" width="4" height="1" fill="#fff" />
<rect x="110" y="174" width="2" height="3" fill="#fff" />
<rect x="114" y="94" width="4" height="1" fill="#fff" />
<rect x="115" y="93" width="2" height="3" fill="#fff" />
<rect x="114" y="100" width="4" height="1" fill="#fff" />
<rect x="115" y="99" width="2" height="3" fill="#fff" />
<rect x="114" y="106" width="4" height="1" fill="#fff" />
<rect x="115" y="105" width="2" height="3" fill="#fff" />
<rect x="114" y="112" width="4" height="1" fill="#fff" />
<rect x="115" y="111" width="2" height="3" fill="#fff" />
<rect x="114" y="117" width="4" height="1" fill="#fff" />
<rect x="115" y="116" width="2" height="3" fill="#fff" />
<rect x="114" y="123" width="4" height="1" fill="#fff" />
<rect x="115" y="122" width="2" height="3" fill="#fff" />
<rect x="114" y="129" width="4" height="1" fill="#fff" />
<rect x="115" y="128" width="2" height="3" fill="#fff" />
<rect x="114" y="135" width="4" height="1" fill="#fff" />
<rect x="115" y="134" width="2" height="3" fill="#fff" />
<rect x="114" y="140" width="4" height="1" fill="#fff" />
<rect x="115" y="139" width="2" height="3" fill="#fff" />
<rect x="114" y="146" width="4" height="1" fill="#fff" />
<rect x="115" y="145" width="2" height="3" fill="#fff" />
<rect x="114" y="152" width="4" height="1" fill="#fff" />
<rect x="115" y="151" width="2" height="3" fill="#fff" />
<rect x="114" y="158" width="4" height="1" fill="#fff" />
<rect x="115" y="157" width="2" height="3" fill="#fff" />
<rect x="114" y="164" width="4" height="1" fill="#fff" />
<rect x="115" y="163" width="2" height="3" fill="#fff" />
<rect x="114" y="169" width="4" height="1" fill="#fff" />
<rect x="115" y="168" width="2" height="3" fill="#fff" />
<rect x="114" y="175" width="4" height="1" fill="#fff" />
<rect x="115" y="174" width="2" height="3" fill="#fff" />
<rect x="120" y="94" width="4" height="1" fill="#fff" />
<rect x="121" y="93" width="2" height="3" fill="#fff" />
<rect x="120" y="100" width="4" height="1" fill="#fff" />
<rect x="121" y="99" width="2" height="3" fill="#fff" />
<rect x="120" y="106" width="4" height="1" fill="#fff" />
<rect x="121" y="105" width="2" height="3" fill="#fff" />
<rect x="120" y="112" width="4" height="1" fill="#fff" />
<rect x="121" y="111" width="2" height="3" fill="#fff" />
<rect x="120" y="117" width="4" height="1" fill="#fff" />
<rect x="121" y="116" width="2" height="3" fill="#fff" />
<rect x="120" y="123" width="4" height="1" fill="#fff" />
<rect x="121" y="122" width="2" height="3" fill="#fff" />
<rect x="120" y="129" width="4" height="1" fill="#fff" />
<rect x="121" y="128" width="2" height="3" fill="#fff" />
<rect x="120" y="135" width="4" height="1" fill="#fff" />
<rect x="121" y="134" width="2" height="3" fill="#fff" />
<rect x="120" y="140" width="4" height="1" fill="#fff" />
<rect x="121" y="139" width="2" height="3" fill="#fff" />
<rect x="120" y="146" width="4" height="1" fill="#fff" />
<rect x="121" y="145" width="2" height="3" fill="#fff" />
<rect x="120" y="152" width="4" height="1" fill="#fff" />
<rect x="121" y="151" width="2" height="3" fill="#fff" />
<rect x="120" y="158" width="4" height="1" fill="#fff" />
<rect x="121" y="157" width="2" height="3" fill="#fff" />
<rect x="120" y="164" width="4" height="1" fill="#fff" />
<rect x="121" y="163" width="2" height="3" fill="#fff" />
<rect x="120" y="169" width="4" height="1" fill="#fff" />
<rect x="121" y="168" width="2" height="3" fill="#fff" />
<rect x="120" y="175" width="4" height="1" fill="#fff" />
<rect x="121" y="174" width="2" height="3" fill="#fff" />
<rect x="59" y="113" width="46" height="45" fill="#fff" />
<rect x="65.95" y="126.95" width="31.1" height="17.1" fill="#fff" stroke="#000" stroke-width="1.9" rx="4"/>
<text transform="translate(82.8,140.3) scale(0.72,1)" font-family="Liberation Sans, Arial, Helvetica, sans-serif" font-size="13.8" letter-spacing="3.06" text-anchor="middle" fill="#000" font-weight="normal" stroke="#000" stroke-width="0.2">NPU</text>
<circle cx="100.7" cy="153.4" r="2.7" fill="#000"/>
<path d="M59,193 H165 V290.5 L155.6,300 H59 Z" fill="#000"/>
<circle cx="154.5" cy="289" r="4.3" fill="#fff"/>
<rect x="98" y="239" width="28" height="14" fill="#fff" />
<text transform="translate(113.1,250.2) scale(0.72,1)" font-family="Liberation Sans, Arial, Helvetica, sans-serif" font-size="13.8" letter-spacing="3.06" text-anchor="middle" fill="#000" font-weight="normal" stroke="#000" stroke-width="0.2">CPU</text>
<rect x="21" y="299" width="31" height="52" fill="#000" />
<rect x="23" y="301" width="27" height="47" rx="3" fill="#fff"/>
<rect x="22" y="300" width="1" height="1" fill="#fff" />
<rect x="50" y="300" width="1" height="1" fill="#fff" />
<rect x="22" y="348" width="1" height="1" fill="#fff" />
<rect x="50" y="348" width="1" height="1" fill="#fff" />
<rect x="640" y="685" width="52" height="31" fill="#000" />
<rect x="643" y="688" width="46" height="25.5" rx="3" fill="#fff"/>
<rect x="642" y="687" width="1" height="1" fill="#fff" />
<rect x="689" y="687" width="1" height="1" fill="#fff" />
<rect x="642" y="713.5" width="1" height="1" fill="#fff" />
<rect x="689" y="713.5" width="1" height="1" fill="#fff" />
<rect x="261" y="239" width="88" height="41.6" fill="#000" />
<rect x="263" y="241" width="4" height="1" fill="#fff" />
<rect x="269" y="241" width="4" height="1" fill="#fff" />
<rect x="275" y="241" width="3" height="1" fill="#fff" />
<rect x="282" y="241" width="4" height="1" fill="#fff" />
<rect x="288" y="241" width="4" height="1" fill="#fff" />
<rect x="294" y="241" width="3" height="1" fill="#fff" />
<rect x="300" y="241" width="4" height="1" fill="#fff" />
<rect x="306" y="241" width="4" height="1" fill="#fff" />
<rect x="313" y="241" width="3" height="1" fill="#fff" />
<rect x="319" y="241" width="4" height="1" fill="#fff" />
<rect x="325" y="241" width="4" height="1" fill="#fff" />
<rect x="331" y="241" width="3" height="1" fill="#fff" />
<rect x="337" y="241" width="4" height="1" fill="#fff" />
<rect x="344" y="241" width="4" height="1" fill="#fff" />
<rect x="263" y="278" width="4" height="1" fill="#fff" />
<rect x="269" y="278" width="4" height="1" fill="#fff" />
<rect x="275" y="278" width="3" height="1" fill="#fff" />
<rect x="282" y="278" width="4" height="1" fill="#fff" />
<rect x="288" y="278" width="4" height="1" fill="#fff" />
<rect x="294" y="278" width="3" height="1" fill="#fff" />
<rect x="300" y="278" width="4" height="1" fill="#fff" />
<rect x="306" y="278" width="4" height="1" fill="#fff" />
<rect x="313" y="278" width="3" height="1" fill="#fff" />
<rect x="319" y="278" width="4" height="1" fill="#fff" />
<rect x="325" y="278" width="4" height="1" fill="#fff" />
<rect x="331" y="278" width="3" height="1" fill="#fff" />
<rect x="337" y="278" width="4" height="1" fill="#fff" />
<rect x="344" y="278" width="4" height="1" fill="#fff" />
<rect x="266" y="253.3" width="79" height="13.5" fill="#fff" />
<rect x="261" y="253.8" width="2.2" height="12" fill="#fff" />
<text transform="translate(304.75,264) scale(0.72,1)" font-family="Liberation Sans, Arial, Helvetica, sans-serif" font-size="13.8" letter-spacing="2.64" text-anchor="middle" fill="#000" font-weight="normal" stroke="#000" stroke-width="0.2">BIOS/ODD</text>
<rect x="261" y="286" width="88" height="40.7" fill="#000" />
<rect x="263" y="288" width="4" height="1" fill="#fff" />
<rect x="269" y="288" width="4" height="1" fill="#fff" />
<rect x="275" y="288" width="3" height="1" fill="#fff" />
<rect x="282" y="288" width="4" height="1" fill="#fff" />
<rect x="288" y="288" width="4" height="1" fill="#fff" />
<rect x="294" y="288" width="3" height="1" fill="#fff" />
<rect x="300" y="288" width="4" height="1" fill="#fff" />
<rect x="306" y="288" width="4" height="1" fill="#fff" />
<rect x="313" y="288" width="3" height="1" fill="#fff" />
<rect x="319" y="288" width="4" height="1" fill="#fff" />
<rect x="325" y="288" width="4" height="1" fill="#fff" />
<rect x="331" y="288" width="3" height="1" fill="#fff" />
<rect x="337" y="288" width="4" height="1" fill="#fff" />
<rect x="344" y="288" width="4" height="1" fill="#fff" />
<path d="M266,300 H345 V312 Q345,313.7 343.3,313.7 H267.7 Q266,313.7 266,312 Z" fill="#fff"/>
<rect x="261" y="301" width="2.2" height="12" fill="#fff" />
<text transform="translate(303.575,311.3) scale(0.72,1)" font-family="Liberation Sans, Arial, Helvetica, sans-serif" font-size="13.8" letter-spacing="2.99" text-anchor="middle" fill="#000" font-weight="normal" stroke="#000" stroke-width="0.2">BIOS/EVEN</text>
<path d="M164,443 H235 V476 H170 V467 H164 Z" fill="#000"/>
<rect x="166" y="445" width="3" height="5" fill="#fff" />
<rect x="172" y="445" width="3" height="5" fill="#fff" />
<rect x="178" y="445" width="3" height="5" fill="#fff" />
<rect x="183" y="445" width="4" height="5" fill="#fff" />
<rect x="189" y="445" width="4" height="5" fill="#fff" />
<rect x="195" y="445" width="3" height="5" fill="#fff" />
<rect x="201" y="445" width="3" height="5" fill="#fff" />
<rect x="206" y="445" width="4" height="5" fill="#fff" />
<rect x="212" y="445" width="3" height="5" fill="#fff" />
<rect x="218" y="445" width="3" height="5" fill="#fff" />
<rect x="223" y="445" width="4" height="5" fill="#fff" />
<rect x="229" y="445" width="4" height="5" fill="#fff" />
<rect x="164" y="453" width="3" height="4" fill="#fff" />
<rect x="172" y="453" width="3" height="5" fill="#fff" />
<rect x="178" y="453" width="3" height="5" fill="#fff" />
<rect x="183" y="453" width="4" height="5" fill="#fff" />
<rect x="189" y="453" width="4" height="5" fill="#fff" />
<rect x="195" y="453" width="3" height="5" fill="#fff" />
<rect x="201" y="453" width="3" height="5" fill="#fff" />
<rect x="206" y="453" width="4" height="5" fill="#fff" />
<rect x="212" y="453" width="3" height="5" fill="#fff" />
<rect x="218" y="453" width="3" height="5" fill="#fff" />
<rect x="223" y="453" width="4" height="5" fill="#fff" />
<rect x="229" y="453" width="4" height="5" fill="#fff" />
<rect x="166" y="461" width="3" height="5" fill="#fff" />
<rect x="172" y="461" width="3" height="5" fill="#fff" />
<rect x="178" y="461" width="3" height="5" fill="#fff" />
<rect x="183" y="461" width="4" height="5" fill="#fff" />
<rect x="189" y="461" width="4" height="5" fill="#fff" />
<rect x="195" y="461" width="3" height="5" fill="#fff" />
<rect x="201" y="461" width="3" height="5" fill="#fff" />
<rect x="206" y="461" width="4" height="5" fill="#fff" />
<rect x="212" y="461" width="3" height="5" fill="#fff" />
<rect x="218" y="461" width="3" height="5" fill="#fff" />
<rect x="223" y="461" width="4" height="5" fill="#fff" />
<rect x="229" y="461" width="4" height="5" fill="#fff" />
<rect x="172" y="469" width="3" height="5" fill="#fff" />
<rect x="178" y="469" width="3" height="5" fill="#fff" />
<rect x="183" y="469" width="4" height="5" fill="#fff" />
<rect x="189" y="469" width="4" height="5" fill="#fff" />
<rect x="195" y="469" width="3" height="5" fill="#fff" />
<rect x="201" y="469" width="3" height="5" fill="#fff" />
<rect x="206" y="469" width="4" height="5" fill="#fff" />
<rect x="212" y="469" width="3" height="5" fill="#fff" />
<rect x="218" y="469" width="3" height="5" fill="#fff" />
<rect x="223" y="469" width="4" height="5" fill="#fff" />
<rect x="229" y="469" width="4" height="5" fill="#fff" />
<path d="M164,477 H235 V510 H170 V501 H164 Z" fill="#000"/>
<rect x="166" y="479" width="3" height="5" fill="#fff" />
<rect x="172" y="479" width="3" height="5" fill="#fff" />
<rect x="178" y="479" width="3" height="5" fill="#fff" />
<rect x="183" y="479" width="4" height="5" fill="#fff" />
<rect x="189" y="479" width="4" height="5" fill="#fff" />
<rect x="195" y="479" width="3" height="5" fill="#fff" />
<rect x="201" y="479" width="3" height="5" fill="#fff" />
<rect x="206" y="479" width="4" height="5" fill="#fff" />
<rect x="212" y="479" width="3" height="5" fill="#fff" />
<rect x="218" y="479" width="3" height="5" fill="#fff" />
<rect x="223" y="479" width="4" height="5" fill="#fff" />
<rect x="229" y="479" width="4" height="5" fill="#fff" />
<rect x="164" y="487" width="3" height="4" fill="#fff" />
<rect x="172" y="487" width="3" height="5" fill="#fff" />
<rect x="178" y="487" width="3" height="5" fill="#fff" />
<rect x="183" y="487" width="4" height="5" fill="#fff" />
<rect x="189" y="487" width="4" height="5" fill="#fff" />
<rect x="195" y="487" width="3" height="5" fill="#fff" />
<rect x="201" y="487" width="3" height="5" fill="#fff" />
<rect x="206" y="487" width="4" height="5" fill="#fff" />
<rect x="212" y="487" width="3" height="5" fill="#fff" />
<rect x="218" y="487" width="3" height="5" fill="#fff" />
<rect x="223" y="487" width="4" height="5" fill="#fff" />
<rect x="229" y="487" width="4" height="5" fill="#fff" />
<rect x="166" y="495" width="3" height="5" fill="#fff" />
<rect x="172" y="495" width="3" height="5" fill="#fff" />
<rect x="178" y="495" width="3" height="5" fill="#fff" />
<rect x="183" y="495" width="4" height="5" fill="#fff" />
<rect x="189" y="495" width="4" height="5" fill="#fff" />
<rect x="195" y="495" width="3" height="5" fill="#fff" />
<rect x="201" y="495" width="3" height="5" fill="#fff" />
<rect x="206" y="495" width="4" height="5" fill="#fff" />
<rect x="212" y="495" width="3" height="5" fill="#fff" />
<rect x="218" y="495" width="3" height="5" fill="#fff" />
<rect x="223" y="495" width="4" height="5" fill="#fff" />
<rect x="229" y="495" width="4" height="5" fill="#fff" />
<rect x="172" y="503" width="3" height="5" fill="#fff" />
<rect x="178" y="503" width="3" height="5" fill="#fff" />
<rect x="183" y="503" width="4" height="5" fill="#fff" />
<rect x="189" y="503" width="4" height="5" fill="#fff" />
<rect x="195" y="503" width="3" height="5" fill="#fff" />
<rect x="201" y="503" width="3" height="5" fill="#fff" />
<rect x="206" y="503" width="4" height="5" fill="#fff" />
<rect x="212" y="503" width="3" height="5" fill="#fff" />
<rect x="218" y="503" width="3" height="5" fill="#fff" />
<rect x="223" y="503" width="4" height="5" fill="#fff" />
<rect x="229" y="503" width="4" height="5" fill="#fff" />
<rect x="186" y="468" width="34" height="17" fill="#000" />
<rect x="188" y="469" width="29" height="15" fill="#fff" />
<text transform="translate(203.8,480.6) scale(0.72,1)" font-family="Liberation Sans, Arial, Helvetica, sans-serif" font-size="13.8" letter-spacing="3.61" text-anchor="middle" fill="#000" font-weight="normal" stroke="#000" stroke-width="0.2">TAG</text>
<path d="M354,117 H425 V150 H360 V142 H354 Z" fill="#000"/>
<rect x="356" y="119" width="3" height="5" fill="#fff" />
<rect x="362" y="119" width="3" height="5" fill="#fff" />
<rect x="367" y="119" width="2" height="5" fill="#fff" />
<rect x="414" y="119" width="2" height="5" fill="#fff" />
<rect x="419" y="119" width="3" height="5" fill="#fff" />
<rect x="354" y="127" width="2" height="4" fill="#fff" />
<rect x="356" y="128" width="1" height="2" fill="#fff" />
<rect x="362" y="126" width="3" height="6" fill="#fff" />
<rect x="367" y="126" width="2" height="6" fill="#fff" />
<rect x="414" y="126" width="2" height="6" fill="#fff" />
<rect x="419" y="126" width="3" height="6" fill="#fff" />
<rect x="356" y="135" width="3" height="5" fill="#fff" />
<rect x="362" y="135" width="3" height="5" fill="#fff" />
<rect x="367" y="135" width="2" height="5" fill="#fff" />
<rect x="414" y="135" width="2" height="5" fill="#fff" />
<rect x="419" y="135" width="3" height="5" fill="#fff" />
<rect x="362" y="143" width="3" height="5" fill="#fff" />
<rect x="367" y="143" width="2" height="5" fill="#fff" />
<rect x="414" y="143" width="2" height="5" fill="#fff" />
<rect x="419" y="143" width="3" height="5" fill="#fff" />
<rect x="369" y="119" width="1" height="1" fill="#fff" />
<rect x="369" y="147" width="1" height="1" fill="#fff" />
<rect x="413" y="119" width="1" height="1" fill="#fff" />
<rect x="413" y="147" width="1" height="1" fill="#fff" />
<rect x="370.5" y="118.5" width="42" height="29" rx="2.5" fill="#fff" stroke="#000" stroke-width="1"/>
<text transform="translate(389.8,130) scale(0.72,1)" font-family="Liberation Sans, Arial, Helvetica, sans-serif" font-size="13.8" letter-spacing="3.33" text-anchor="middle" fill="#000" font-weight="normal" stroke="#000" stroke-width="0.2">Dirty</text>
<text transform="translate(389.9,145) scale(0.72,1)" font-family="Liberation Sans, Arial, Helvetica, sans-serif" font-size="13.8" letter-spacing="3.61" text-anchor="middle" fill="#000" font-weight="normal" stroke="#000" stroke-width="0.2">Bit</text>
<rect x="25" y="18" width="7" height="13" fill="#000" />
<rect x="26" y="24" width="5" height="1" fill="#fff" />
<rect x="121" y="314" width="6" height="14" fill="#000" />
<rect x="122" y="315" width="4" height="1" fill="#fff" />
<rect x="122" y="320" width="4" height="1" fill="#fff" />
<rect x="122" y="326" width="4" height="1" fill="#fff" />
<rect x="180" y="336" width="6" height="20" fill="#000" />
<rect x="181" y="337" width="4" height="1" fill="#fff" />
<rect x="182" y="339" width="2" height="3" fill="#fff" />
<rect x="181" y="343" width="4" height="1" fill="#fff" />
<rect x="181" y="348" width="4" height="2" fill="#fff" />
<rect x="181" y="354" width="4" height="1" fill="#fff" />
<rect x="188" y="336" width="7" height="20" fill="#000" />
<rect x="189" y="337" width="5" height="1" fill="#fff" />
<rect x="193" y="337" width="1" height="18" fill="#fff" />
<rect x="190" y="339" width="2" height="3" fill="#fff" />
<rect x="189" y="343" width="5" height="1" fill="#fff" />
<rect x="189" y="348" width="5" height="2" fill="#fff" />
<rect x="189" y="354" width="5" height="1" fill="#fff" />
<rect x="506" y="378" width="7" height="19" fill="#000" />
<rect x="507" y="379" width="5" height="1" fill="#fff" />
<rect x="511" y="379" width="1" height="17" fill="#fff" />
<rect x="508" y="381" width="2" height="3" fill="#fff" />
<rect x="507" y="385" width="5" height="1" fill="#fff" />
<rect x="507" y="390" width="5" height="2" fill="#fff" />
<rect x="514" y="378" width="7" height="19" fill="#000" />
<rect x="515" y="379" width="5" height="1" fill="#fff" />
<rect x="519" y="379" width="1" height="17" fill="#fff" />
<rect x="516" y="381" width="2" height="3" fill="#fff" />
<rect x="515" y="385" width="5" height="1" fill="#fff" />
<rect x="515" y="390" width="5" height="2" fill="#fff" />
<rect x="237" y="366" width="7" height="19" fill="#000" />
<rect x="238" y="367" width="5" height="1" fill="#fff" />
<rect x="239" y="369" width="3" height="2" fill="#fff" />
<rect x="238" y="372" width="5" height="1" fill="#fff" />
<rect x="238" y="378" width="5" height="1" fill="#fff" />
<rect x="73" y="355" width="31" height="6" fill="#000" />
<rect x="74" y="356" width="5" height="4" fill="#fff" />
<rect x="76" y="357" width="2" height="2" fill="#000" />
<rect x="80" y="356" width="1" height="4" fill="#fff" />
<rect x="85" y="356" width="1" height="4" fill="#fff" />
<rect x="90" y="356" width="2.2" height="4" fill="#fff" />
<rect x="96" y="356" width="2.2" height="4" fill="#fff" />
<rect x="102" y="356" width="1.2" height="4" fill="#fff" />
<rect x="73" y="369" width="13" height="7" fill="#000" />
<rect x="74.4" y="370" width="1" height="4.6" fill="#fff" />
<rect x="74.4" y="373.6" width="10.6" height="1" fill="#fff" />
<rect x="79.5" y="370" width="1" height="4" fill="#fff" />
<rect x="89" y="369" width="14" height="7" fill="#000" />
<rect x="90.4" y="370" width="1" height="4.6" fill="#fff" />
<rect x="90.4" y="373.6" width="11.6" height="1" fill="#fff" />
<rect x="95.8" y="370" width="1" height="4" fill="#fff" />
<rect x="101" y="370" width="1" height="4.6" fill="#fff" />
<rect x="73" y="383" width="26" height="7" fill="#000" />
<rect x="74.4" y="384.3" width="23.4" height="1" fill="#fff" />
<rect x="74.4" y="384.3" width="1" height="4.7" fill="#fff" />
<rect x="96.8" y="384.3" width="1" height="4.7" fill="#fff" />
<rect x="76.4" y="386.3" width="3.2" height="1.7" fill="#fff" />
<rect x="81" y="385.3" width="1" height="3.7" fill="#fff" />
<rect x="85.5" y="385.3" width="1" height="3.7" fill="#fff" />
<rect x="91" y="385.3" width="1" height="3.7" fill="#fff" />
<rect x="73" y="397" width="19" height="7" fill="#000" />
<rect x="74.3" y="398.2" width="0.9" height="4.6" fill="#fff" />
<rect x="76.2" y="399" width="2.6" height="3" fill="#fff" />
<rect x="77" y="399.8" width="1" height="1.4" fill="#000" />
<rect x="79.8" y="398.2" width="1" height="4.6" fill="#fff" />
<rect x="85.3" y="398.2" width="1.1" height="4.6" fill="#fff" />
<path d="M27.3,51 L28.4,33.5 L32.8,51 Z" fill="#000" stroke="#000" stroke-width="1.1" stroke-linejoin="round"/>
<rect x="15" y="50" width="30.6" height="18.5" rx="3.4" fill="#000"/>
<rect x="16.9" y="51.9" width="26.8" height="14.2" rx="1.5" fill="#fff"/>
<path d="M28.37,53.59 L29.36,43.65 L32.22,53.59 Z" fill="#fff"/>
<text transform="translate(29.1,64.8) scale(0.72,1)" font-family="Liberation Sans, Arial, Helvetica, sans-serif" font-size="13.8" letter-spacing="4.17" text-anchor="middle" fill="#000" font-weight="normal" stroke="#000" stroke-width="0.2">J1</text>
<path d="M426,16.8 L410.3,20.6 L426,23 Z" fill="#000" stroke="#000" stroke-width="1.1" stroke-linejoin="round"/>
<rect x="425" y="11" width="25.3" height="18.8" rx="3.4" fill="#000"/>
<rect x="426.9" y="12.9" width="21.5" height="14.5" rx="1.5" fill="#fff"/>
<path d="M428.60,17.61 L419.41,20.19 L428.60,21.95 Z" fill="#fff"/>
<text transform="translate(439,24.7) scale(0.72,1)" font-family="Liberation Sans, Arial, Helvetica, sans-serif" font-size="13.8" letter-spacing="3.89" text-anchor="middle" fill="#000" font-weight="normal" stroke="#000" stroke-width="0.2">S1</text>
<path d="M103,315.8 L120,320.2 L103,321.8 Z" fill="#000" stroke="#000" stroke-width="1.1" stroke-linejoin="round"/>
<rect x="78" y="309.3" width="26" height="17.2" rx="3.4" fill="#000"/>
<rect x="79.9" y="311.2" width="22.2" height="12.9" rx="1.5" fill="#fff"/>
<path d="M100.41,316.49 L110.14,319.39 L100.41,320.69 Z" fill="#fff"/>
<text transform="translate(91.1,321.7) scale(0.72,1)" font-family="Liberation Sans, Arial, Helvetica, sans-serif" font-size="13.8" letter-spacing="3.61" text-anchor="middle" fill="#000" font-weight="normal" stroke="#000" stroke-width="0.2">W6</text>
<path d="M77.5,346.5 L88,353.8 L81.5,342.5 Z" fill="#000" stroke="#000" stroke-width="1.1" stroke-linejoin="round"/>
<rect x="57.2" y="329.4" width="24.8" height="18.1" rx="3.4" fill="#000"/>
<rect x="59.1" y="331.3" width="21" height="13.8" rx="1.5" fill="#fff"/>
<path d="M76.35,343.98 L83.07,348.41 L79.15,341.18 Z" fill="#fff"/>
<text transform="translate(69.2,342.25) scale(0.72,1)" font-family="Liberation Sans, Arial, Helvetica, sans-serif" font-size="13.8" letter-spacing="3.61" text-anchor="middle" fill="#000" font-weight="normal" stroke="#000" stroke-width="0.2">J2</text>
<path d="M55,365.2 L72.5,372 L55,373 Z" fill="#000" stroke="#000" stroke-width="1.1" stroke-linejoin="round"/>
<rect x="31.2" y="361" width="24.8" height="18" rx="3.4" fill="#000"/>
<rect x="33.1" y="362.9" width="21" height="13.7" rx="1.5" fill="#fff"/>
<path d="M52.43,365.94 L62.35,370.32 L52.43,371.40 Z" fill="#fff"/>
<text transform="translate(43.2,373.9) scale(0.72,1)" font-family="Liberation Sans, Arial, Helvetica, sans-serif" font-size="13.8" letter-spacing="3.61" text-anchor="middle" fill="#000" font-weight="normal" stroke="#000" stroke-width="0.2">J3</text>
<path d="M119,367.3 L103.6,372.3 L119,373.8 Z" fill="#000" stroke="#000" stroke-width="1.1" stroke-linejoin="round"/>
<rect x="118" y="361.5" width="25.4" height="17.5" rx="3.4" fill="#000"/>
<rect x="119.9" y="363.4" width="21.6" height="13.2" rx="1.5" fill="#fff"/>
<path d="M121.58,367.98 L112.53,371.29 L121.58,372.53 Z" fill="#fff"/>
<text transform="translate(130.3,374.05) scale(0.72,1)" font-family="Liberation Sans, Arial, Helvetica, sans-serif" font-size="13.8" letter-spacing="3.61" text-anchor="middle" fill="#000" font-weight="normal" stroke="#000" stroke-width="0.2">J4</text>
<path d="M119,387 L99.6,386.6 L119,394.5 Z" fill="#000" stroke="#000" stroke-width="1.1" stroke-linejoin="round"/>
<rect x="118" y="383" width="25.5" height="17.4" rx="3.4" fill="#000"/>
<rect x="119.9" y="384.9" width="21.7" height="13.1" rx="1.5" fill="#fff"/>
<path d="M121.54,388.67 L110.85,389.01 L121.54,393.92 Z" fill="#fff"/>
<text transform="translate(130.35,394.9) scale(0.72,1)" font-family="Liberation Sans, Arial, Helvetica, sans-serif" font-size="13.8" letter-spacing="3.61" text-anchor="middle" fill="#000" font-weight="normal" stroke="#000" stroke-width="0.2">J5</text>
<path d="M79.8,421.5 L82.3,404.5 L84.6,421.5 Z" fill="#000" stroke="#000" stroke-width="1.1" stroke-linejoin="round"/>
<rect x="70.3" y="420.5" width="24.9" height="18.1" rx="3.4" fill="#000"/>
<rect x="72.2" y="422.4" width="21.1" height="13.8" rx="1.5" fill="#fff"/>
<path d="M80.50,424.10 L82.24,414.36 L83.86,424.10 Z" fill="#fff"/>
<text transform="translate(82.35,433.35) scale(0.72,1)" font-family="Liberation Sans, Arial, Helvetica, sans-serif" font-size="13.8" letter-spacing="3.61" text-anchor="middle" fill="#000" font-weight="normal" stroke="#000" stroke-width="0.2">J6</text>
<path d="M172,319 L183.5,335.8 L177.5,319 Z" fill="#000" stroke="#000" stroke-width="1.1" stroke-linejoin="round"/>
<rect x="160.4" y="301.3" width="29.4" height="18.6" rx="3.4" fill="#000"/>
<rect x="162.3" y="303.2" width="25.6" height="14.3" rx="1.5" fill="#fff"/>
<path d="M171.62,316.69 L178.43,326.06 L175.47,316.69 Z" fill="#fff"/>
<text transform="translate(175.2,314.4) scale(0.72,1)" font-family="Liberation Sans, Arial, Helvetica, sans-serif" font-size="13.8" letter-spacing="3.61" text-anchor="middle" fill="#000" font-weight="normal" stroke="#000" stroke-width="0.2">W2</text>
<path d="M207,320 L191,335.2 L213,320 Z" fill="#000" stroke="#000" stroke-width="1.1" stroke-linejoin="round"/>
<rect x="195.2" y="302" width="30.8" height="18.8" rx="3.4" fill="#000"/>
<rect x="197.1" y="303.9" width="27" height="14.5" rx="1.5" fill="#fff"/>
<path d="M209.93,318.38 L202.02,326.38 L214.13,318.38 Z" fill="#fff"/>
<text transform="translate(210.7,315.2) scale(0.72,1)" font-family="Liberation Sans, Arial, Helvetica, sans-serif" font-size="13.8" letter-spacing="3.61" text-anchor="middle" fill="#000" font-weight="normal" stroke="#000" stroke-width="0.2">W1</text>
<path d="M233.6,346.6 L240.2,364.2 L239.2,346.6 Z" fill="#000" stroke="#000" stroke-width="1.1" stroke-linejoin="round"/>
<rect x="222" y="330.4" width="30.6" height="17.2" rx="3.4" fill="#000"/>
<rect x="223.9" y="332.3" width="26.8" height="12.9" rx="1.5" fill="#fff"/>
<path d="M233.89,344.06 L238.00,353.99 L237.81,344.06 Z" fill="#fff"/>
<text transform="translate(237.4,342.8) scale(0.72,1)" font-family="Liberation Sans, Arial, Helvetica, sans-serif" font-size="13.8" letter-spacing="3.61" text-anchor="middle" fill="#000" font-weight="normal" stroke="#000" stroke-width="0.2">W3</text>
<path d="M502.6,359.6 L508.6,376.6 L509,359.6 Z" fill="#000" stroke="#000" stroke-width="1.1" stroke-linejoin="round"/>
<rect x="490.3" y="342.4" width="30.2" height="18.1" rx="3.4" fill="#000"/>
<rect x="492.2" y="344.3" width="26.4" height="13.8" rx="1.5" fill="#fff"/>
<path d="M503.14,357.03 L506.98,366.74 L507.62,357.03 Z" fill="#fff"/>
<text transform="translate(505.5,356.2) scale(0.72,1)" font-family="Liberation Sans, Arial, Helvetica, sans-serif" font-size="13.8" letter-spacing="3.61" text-anchor="middle" fill="#000" font-weight="normal" stroke="#000" stroke-width="0.2">W4</text>
<path d="M511.6,417.4 L518.4,399.4 L517.6,417.4 Z" fill="#000" stroke="#000" stroke-width="1.1" stroke-linejoin="round"/>
<rect x="499.3" y="416.4" width="30.7" height="18" rx="3.4" fill="#000"/>
<rect x="501.2" y="418.3" width="26.9" height="13.7" rx="1.5" fill="#fff"/>
<path d="M511.96,419.94 L516.20,409.84 L516.16,419.94 Z" fill="#fff"/>
<text transform="translate(514.75,429.2) scale(0.72,1)" font-family="Liberation Sans, Arial, Helvetica, sans-serif" font-size="13.8" letter-spacing="3.61" text-anchor="middle" fill="#000" font-weight="normal" stroke="#000" stroke-width="0.2">W5</text>
<path d="M806,323 L807,341.3 L812.6,323 Z" fill="#000" stroke="#000" stroke-width="1.1" stroke-linejoin="round"/>
<rect x="792.2" y="306" width="34.4" height="17.9" rx="3.4" fill="#000"/>
<rect x="794.1" y="307.9" width="30.6" height="13.6" rx="1.5" fill="#fff"/>
<path d="M807.31,320.42 L808.33,330.69 L811.93,320.42 Z" fill="#fff"/>
<text transform="translate(809.2,318.75) scale(0.72,1)" font-family="Liberation Sans, Arial, Helvetica, sans-serif" font-size="13.8" letter-spacing="2.78" text-anchor="middle" fill="#000" font-weight="normal" stroke="#000" stroke-width="0.2">SW1</text>
<text transform="translate(672.675,47) scale(0.78,1)" font-family="Liberation Sans, Arial, Helvetica, sans-serif" font-size="12" letter-spacing="2.24" text-anchor="middle" fill="#000" font-weight="normal" stroke="#000" stroke-width="0.2">MH0064</text>
<rect x="537" y="357" width="227" height="167" fill="#fff" />
<rect x="563" y="359" width="176" height="7" fill="#000" />
<rect x="564" y="366" width="174" height="7" fill="#000" />
<rect x="564" y="360" width="1" height="6" fill="#fff" />
<rect x="737" y="360" width="1" height="6" fill="#fff" />
<rect x="566" y="360" width="5" height="6" fill="#fff" />
<rect x="568" y="366" width="1" height="6" fill="#fff" />
<rect x="572" y="360" width="4" height="6" fill="#fff" />
<rect x="574" y="368" width="1" height="4" fill="#fff" />
<rect x="578" y="360" width="4" height="6" fill="#fff" />
<rect x="580" y="368" width="1" height="4" fill="#fff" />
<rect x="584" y="360" width="4" height="6" fill="#fff" />
<rect x="586" y="368" width="1" height="4" fill="#fff" />
<rect x="590" y="360" width="4" height="6" fill="#fff" />
<rect x="591" y="368" width="2" height="4" fill="#fff" />
<rect x="596" y="360" width="4" height="6" fill="#fff" />
<rect x="598" y="368" width="1" height="4" fill="#fff" />
<rect x="602" y="360" width="4" height="6" fill="#fff" />
<rect x="604" y="368" width="1" height="4" fill="#fff" />
<rect x="607" y="360" width="4" height="6" fill="#fff" />
<rect x="609" y="368" width="1" height="4" fill="#fff" />
<rect x="613" y="360" width="4" height="6" fill="#fff" />
<rect x="614" y="368" width="2" height="4" fill="#fff" />
<rect x="619" y="360" width="4" height="6" fill="#fff" />
<rect x="621" y="368" width="1" height="4" fill="#fff" />
<rect x="625" y="360" width="4" height="6" fill="#fff" />
<rect x="627" y="368" width="1" height="4" fill="#fff" />
<rect x="631" y="360" width="4" height="6" fill="#fff" />
<rect x="633" y="368" width="1" height="4" fill="#fff" />
<rect x="637" y="360" width="4" height="6" fill="#fff" />
<rect x="638" y="368" width="2" height="4" fill="#fff" />
<rect x="643" y="360" width="4" height="6" fill="#fff" />
<rect x="645" y="368" width="1" height="4" fill="#fff" />
<rect x="649" y="360" width="4" height="6" fill="#fff" />
<rect x="651" y="368" width="1" height="4" fill="#fff" />
<rect x="655" y="360" width="4" height="6" fill="#fff" />
<rect x="657" y="368" width="1" height="4" fill="#fff" />
<rect x="660" y="360" width="4" height="6" fill="#fff" />
<rect x="661" y="368" width="2" height="4" fill="#fff" />
<rect x="666" y="360" width="4" height="6" fill="#fff" />
<rect x="668" y="368" width="1" height="4" fill="#fff" />
<rect x="672" y="360" width="4" height="6" fill="#fff" />
<rect x="674" y="368" width="1" height="4" fill="#fff" />
<rect x="678" y="360" width="4" height="6" fill="#fff" />
<rect x="680" y="368" width="1" height="4" fill="#fff" />
<rect x="684" y="360" width="4" height="6" fill="#fff" />
<rect x="685" y="368" width="2" height="4" fill="#fff" />
<rect x="690" y="360" width="4" height="6" fill="#fff" />
<rect x="692" y="368" width="1" height="4" fill="#fff" />
<rect x="695" y="360" width="5" height="6" fill="#fff" />
<rect x="697" y="366" width="1" height="6" fill="#fff" />
<rect x="702" y="360" width="4" height="6" fill="#fff" />
<rect x="704" y="368" width="1" height="4" fill="#fff" />
<rect x="708" y="360" width="4" height="6" fill="#fff" />
<rect x="709" y="368" width="2" height="4" fill="#fff" />
<rect x="714" y="360" width="4" height="6" fill="#fff" />
<rect x="716" y="368" width="1" height="4" fill="#fff" />
<rect x="719" y="360" width="5" height="6" fill="#fff" />
<rect x="721" y="366" width="1" height="6" fill="#fff" />
<rect x="725" y="360" width="4" height="6" fill="#fff" />
<rect x="727" y="368" width="1" height="4" fill="#fff" />
<rect x="731" y="360" width="4" height="6" fill="#fff" />
<rect x="732" y="368" width="2" height="4" fill="#fff" />
<rect x="549" y="359" width="10" height="1" fill="#000" />
<rect x="558" y="359" width="1" height="11" fill="#000" />
<rect x="557" y="369" width="2" height="1" fill="#000" />
<rect x="551" y="366" width="6" height="1" fill="#000" />
<rect x="551" y="366" width="1" height="4" fill="#000" />
<rect x="549" y="368" width="3" height="2" fill="#000" />
<rect x="556" y="366" width="1" height="8" fill="#000" />
<rect x="549" y="373" width="8" height="1" fill="#000" />
<rect x="743" y="359" width="10" height="1" fill="#000" />
<rect x="743" y="359" width="1" height="11" fill="#000" />
<rect x="743" y="369" width="2" height="1" fill="#000" />
<rect x="745" y="366" width="6" height="1" fill="#000" />
<rect x="750" y="366" width="1" height="4" fill="#000" />
<rect x="750" y="368" width="3" height="2" fill="#000" />
<rect x="745" y="366" width="1" height="8" fill="#000" />
<rect x="745" y="373" width="8" height="1" fill="#000" />
<rect x="563.5" y="374.5" width="30" height="7" fill="#fff" stroke="#000" stroke-width="1" rx="0"/>
<rect x="598.5" y="374.5" width="30" height="7" fill="#fff" stroke="#000" stroke-width="1" rx="0"/>
<rect x="637.5" y="374.5" width="29" height="7" fill="#fff" stroke="#000" stroke-width="1" rx="0"/>
<rect x="673.5" y="374.5" width="30" height="7" fill="#fff" stroke="#000" stroke-width="1" rx="0"/>
<rect x="709.5" y="374.5" width="30" height="7" fill="#fff" stroke="#000" stroke-width="1" rx="0"/>
<rect x="563" y="382" width="176" height="8" fill="#000" />
<rect x="564" y="390" width="174" height="7" fill="#000" />
<rect x="566" y="382" width="1" height="1" fill="#fff" />
<rect x="569" y="382" width="1" height="1" fill="#fff" />
<rect x="572" y="382" width="1" height="1" fill="#fff" />
<rect x="575" y="382" width="1" height="1" fill="#fff" />
<rect x="578" y="382" width="1" height="1" fill="#fff" />
<rect x="581" y="382" width="1" height="1" fill="#fff" />
<rect x="584" y="382" width="1" height="1" fill="#fff" />
<rect x="587" y="382" width="1" height="1" fill="#fff" />
<rect x="590" y="382" width="1" height="1" fill="#fff" />
<rect x="593" y="382" width="1" height="1" fill="#fff" />
<rect x="596" y="382" width="1" height="1" fill="#fff" />
<rect x="599" y="382" width="1" height="1" fill="#fff" />
<rect x="602" y="382" width="1" height="1" fill="#fff" />
<rect x="605" y="382" width="1" height="1" fill="#fff" />
<rect x="608" y="382" width="1" height="1" fill="#fff" />
<rect x="611" y="382" width="1" height="1" fill="#fff" />
<rect x="614" y="382" width="1" height="1" fill="#fff" />
<rect x="617" y="382" width="1" height="1" fill="#fff" />
<rect x="620" y="382" width="1" height="1" fill="#fff" />
<rect x="623" y="382" width="1" height="1" fill="#fff" />
<rect x="626" y="382" width="1" height="1" fill="#fff" />
<rect x="629" y="382" width="1" height="1" fill="#fff" />
<rect x="632" y="382" width="1" height="1" fill="#fff" />
<rect x="635" y="382" width="1" height="1" fill="#fff" />
<rect x="638" y="382" width="1" height="1" fill="#fff" />
<rect x="641" y="382" width="1" height="1" fill="#fff" />
<rect x="644" y="382" width="1" height="1" fill="#fff" />
<rect x="647" y="382" width="1" height="1" fill="#fff" />
<rect x="650" y="382" width="1" height="1" fill="#fff" />
<rect x="653" y="382" width="1" height="1" fill="#fff" />
<rect x="656" y="382" width="1" height="1" fill="#fff" />
<rect x="659" y="382" width="1" height="1" fill="#fff" />
<rect x="662" y="382" width="1" height="1" fill="#fff" />
<rect x="665" y="382" width="1" height="1" fill="#fff" />
<rect x="668" y="382" width="1" height="1" fill="#fff" />
<rect x="671" y="382" width="1" height="1" fill="#fff" />
<rect x="674" y="382" width="1" height="1" fill="#fff" />
<rect x="677" y="382" width="1" height="1" fill="#fff" />
<rect x="680" y="382" width="1" height="1" fill="#fff" />
<rect x="683" y="382" width="1" height="1" fill="#fff" />
<rect x="686" y="382" width="1" height="1" fill="#fff" />
<rect x="689" y="382" width="1" height="1" fill="#fff" />
<rect x="692" y="382" width="1" height="1" fill="#fff" />
<rect x="695" y="382" width="1" height="1" fill="#fff" />
<rect x="698" y="382" width="1" height="1" fill="#fff" />
<rect x="701" y="382" width="1" height="1" fill="#fff" />
<rect x="704" y="382" width="1" height="1" fill="#fff" />
<rect x="707" y="382" width="1" height="1" fill="#fff" />
<rect x="710" y="382" width="1" height="1" fill="#fff" />
<rect x="713" y="382" width="1" height="1" fill="#fff" />
<rect x="716" y="382" width="1" height="1" fill="#fff" />
<rect x="719" y="382" width="1" height="1" fill="#fff" />
<rect x="722" y="382" width="1" height="1" fill="#fff" />
<rect x="725" y="382" width="1" height="1" fill="#fff" />
<rect x="728" y="382" width="1" height="1" fill="#fff" />
<rect x="731" y="382" width="1" height="1" fill="#fff" />
<rect x="734" y="382" width="1" height="1" fill="#fff" />
<rect x="564" y="384" width="1" height="6" fill="#fff" />
<rect x="737" y="384" width="1" height="6" fill="#fff" />
<rect x="566" y="384" width="5" height="6" fill="#fff" />
<rect x="568" y="390" width="1" height="6" fill="#fff" />
<rect x="572" y="384" width="4" height="6" fill="#fff" />
<rect x="574" y="392" width="1" height="4" fill="#fff" />
<rect x="578" y="384" width="4" height="6" fill="#fff" />
<rect x="580" y="392" width="1" height="4" fill="#fff" />
<rect x="584" y="384" width="4" height="6" fill="#fff" />
<rect x="586" y="392" width="1" height="4" fill="#fff" />
<rect x="590" y="384" width="4" height="6" fill="#fff" />
<rect x="591" y="392" width="2" height="4" fill="#fff" />
<rect x="596" y="384" width="4" height="6" fill="#fff" />
<rect x="598" y="392" width="1" height="4" fill="#fff" />
<rect x="602" y="384" width="4" height="6" fill="#fff" />
<rect x="604" y="392" width="1" height="4" fill="#fff" />
<rect x="607" y="384" width="4" height="6" fill="#fff" />
<rect x="609" y="392" width="1" height="4" fill="#fff" />
<rect x="613" y="384" width="4" height="6" fill="#fff" />
<rect x="614" y="392" width="2" height="4" fill="#fff" />
<rect x="619" y="384" width="4" height="6" fill="#fff" />
<rect x="621" y="392" width="1" height="4" fill="#fff" />
<rect x="625" y="384" width="4" height="6" fill="#fff" />
<rect x="627" y="392" width="1" height="4" fill="#fff" />
<rect x="631" y="384" width="4" height="6" fill="#fff" />
<rect x="633" y="392" width="1" height="4" fill="#fff" />
<rect x="637" y="384" width="4" height="6" fill="#fff" />
<rect x="638" y="392" width="2" height="4" fill="#fff" />
<rect x="643" y="384" width="4" height="6" fill="#fff" />
<rect x="645" y="392" width="1" height="4" fill="#fff" />
<rect x="649" y="384" width="4" height="6" fill="#fff" />
<rect x="651" y="392" width="1" height="4" fill="#fff" />
<rect x="655" y="384" width="4" height="6" fill="#fff" />
<rect x="657" y="392" width="1" height="4" fill="#fff" />
<rect x="660" y="384" width="4" height="6" fill="#fff" />
<rect x="661" y="392" width="2" height="4" fill="#fff" />
<rect x="666" y="384" width="4" height="6" fill="#fff" />
<rect x="668" y="392" width="1" height="4" fill="#fff" />
<rect x="672" y="384" width="4" height="6" fill="#fff" />
<rect x="674" y="392" width="1" height="4" fill="#fff" />
<rect x="678" y="384" width="4" height="6" fill="#fff" />
<rect x="680" y="392" width="1" height="4" fill="#fff" />
<rect x="684" y="384" width="4" height="6" fill="#fff" />
<rect x="685" y="392" width="2" height="4" fill="#fff" />
<rect x="690" y="384" width="4" height="6" fill="#fff" />
<rect x="692" y="392" width="1" height="4" fill="#fff" />
<rect x="695" y="384" width="5" height="6" fill="#fff" />
<rect x="697" y="390" width="1" height="6" fill="#fff" />
<rect x="702" y="384" width="4" height="6" fill="#fff" />
<rect x="704" y="392" width="1" height="4" fill="#fff" />
<rect x="708" y="384" width="4" height="6" fill="#fff" />
<rect x="709" y="392" width="2" height="4" fill="#fff" />
<rect x="714" y="384" width="4" height="6" fill="#fff" />
<rect x="716" y="392" width="1" height="4" fill="#fff" />
<rect x="719" y="384" width="5" height="6" fill="#fff" />
<rect x="721" y="390" width="1" height="6" fill="#fff" />
<rect x="725" y="384" width="4" height="6" fill="#fff" />
<rect x="727" y="392" width="1" height="4" fill="#fff" />
<rect x="731" y="384" width="4" height="6" fill="#fff" />
<rect x="732" y="392" width="2" height="4" fill="#fff" />
<rect x="549" y="383" width="10" height="1" fill="#000" />
<rect x="558" y="383" width="1" height="11" fill="#000" />
<rect x="557" y="393" width="2" height="1" fill="#000" />
<rect x="551" y="390" width="6" height="1" fill="#000" />
<rect x="551" y="390" width="1" height="4" fill="#000" />
<rect x="549" y="392" width="3" height="2" fill="#000" />
<rect x="556" y="390" width="1" height="8" fill="#000" />
<rect x="549" y="397" width="8" height="1" fill="#000" />
<rect x="743" y="383" width="10" height="1" fill="#000" />
<rect x="743" y="383" width="1" height="11" fill="#000" />
<rect x="743" y="393" width="2" height="1" fill="#000" />
<rect x="745" y="390" width="6" height="1" fill="#000" />
<rect x="750" y="390" width="1" height="4" fill="#000" />
<rect x="750" y="392" width="3" height="2" fill="#000" />
<rect x="745" y="390" width="1" height="8" fill="#000" />
<rect x="745" y="397" width="8" height="1" fill="#000" />
<rect x="537" y="360" width="9" height="1" fill="#000" />
<rect x="756" y="360" width="8" height="1" fill="#000" />
<rect x="537" y="367" width="9" height="1" fill="#000" />
<rect x="756" y="367" width="8" height="1" fill="#000" />
<rect x="537" y="384" width="9" height="1" fill="#000" />
<rect x="756" y="384" width="8" height="1" fill="#000" />
<rect x="537" y="391" width="9" height="1" fill="#000" />
<rect x="756" y="391" width="8" height="1" fill="#000" />
<rect x="563" y="400" width="176" height="8" fill="#000" />
<rect x="564" y="408" width="174" height="7" fill="#000" />
<rect x="566" y="400" width="1" height="1" fill="#fff" />
<rect x="569" y="400" width="1" height="1" fill="#fff" />
<rect x="572" y="400" width="1" height="1" fill="#fff" />
<rect x="575" y="400" width="1" height="1" fill="#fff" />
<rect x="578" y="400" width="1" height="1" fill="#fff" />
<rect x="581" y="400" width="1" height="1" fill="#fff" />
<rect x="584" y="400" width="1" height="1" fill="#fff" />
<rect x="587" y="400" width="1" height="1" fill="#fff" />
<rect x="590" y="400" width="1" height="1" fill="#fff" />
<rect x="593" y="400" width="1" height="1" fill="#fff" />
<rect x="596" y="400" width="1" height="1" fill="#fff" />
<rect x="599" y="400" width="1" height="1" fill="#fff" />
<rect x="602" y="400" width="1" height="1" fill="#fff" />
<rect x="605" y="400" width="1" height="1" fill="#fff" />
<rect x="608" y="400" width="1" height="1" fill="#fff" />
<rect x="611" y="400" width="1" height="1" fill="#fff" />
<rect x="614" y="400" width="1" height="1" fill="#fff" />
<rect x="617" y="400" width="1" height="1" fill="#fff" />
<rect x="620" y="400" width="1" height="1" fill="#fff" />
<rect x="623" y="400" width="1" height="1" fill="#fff" />
<rect x="626" y="400" width="1" height="1" fill="#fff" />
<rect x="629" y="400" width="1" height="1" fill="#fff" />
<rect x="632" y="400" width="1" height="1" fill="#fff" />
<rect x="635" y="400" width="1" height="1" fill="#fff" />
<rect x="638" y="400" width="1" height="1" fill="#fff" />
<rect x="641" y="400" width="1" height="1" fill="#fff" />
<rect x="644" y="400" width="1" height="1" fill="#fff" />
<rect x="647" y="400" width="1" height="1" fill="#fff" />
<rect x="650" y="400" width="1" height="1" fill="#fff" />
<rect x="653" y="400" width="1" height="1" fill="#fff" />
<rect x="656" y="400" width="1" height="1" fill="#fff" />
<rect x="659" y="400" width="1" height="1" fill="#fff" />
<rect x="662" y="400" width="1" height="1" fill="#fff" />
<rect x="665" y="400" width="1" height="1" fill="#fff" />
<rect x="668" y="400" width="1" height="1" fill="#fff" />
<rect x="671" y="400" width="1" height="1" fill="#fff" />
<rect x="674" y="400" width="1" height="1" fill="#fff" />
<rect x="677" y="400" width="1" height="1" fill="#fff" />
<rect x="680" y="400" width="1" height="1" fill="#fff" />
<rect x="683" y="400" width="1" height="1" fill="#fff" />
<rect x="686" y="400" width="1" height="1" fill="#fff" />
<rect x="689" y="400" width="1" height="1" fill="#fff" />
<rect x="692" y="400" width="1" height="1" fill="#fff" />
<rect x="695" y="400" width="1" height="1" fill="#fff" />
<rect x="698" y="400" width="1" height="1" fill="#fff" />
<rect x="701" y="400" width="1" height="1" fill="#fff" />
<rect x="704" y="400" width="1" height="1" fill="#fff" />
<rect x="707" y="400" width="1" height="1" fill="#fff" />
<rect x="710" y="400" width="1" height="1" fill="#fff" />
<rect x="713" y="400" width="1" height="1" fill="#fff" />
<rect x="716" y="400" width="1" height="1" fill="#fff" />
<rect x="719" y="400" width="1" height="1" fill="#fff" />
<rect x="722" y="400" width="1" height="1" fill="#fff" />
<rect x="725" y="400" width="1" height="1" fill="#fff" />
<rect x="728" y="400" width="1" height="1" fill="#fff" />
<rect x="731" y="400" width="1" height="1" fill="#fff" />
<rect x="734" y="400" width="1" height="1" fill="#fff" />
<rect x="564" y="402" width="1" height="6" fill="#fff" />
<rect x="737" y="402" width="1" height="6" fill="#fff" />
<rect x="566" y="402" width="5" height="6" fill="#fff" />
<rect x="568" y="408" width="1" height="6" fill="#fff" />
<rect x="572" y="402" width="4" height="6" fill="#fff" />
<rect x="574" y="410" width="1" height="4" fill="#fff" />
<rect x="578" y="402" width="4" height="6" fill="#fff" />
<rect x="580" y="410" width="1" height="4" fill="#fff" />
<rect x="584" y="402" width="4" height="6" fill="#fff" />
<rect x="586" y="410" width="1" height="4" fill="#fff" />
<rect x="590" y="402" width="4" height="6" fill="#fff" />
<rect x="591" y="410" width="2" height="4" fill="#fff" />
<rect x="596" y="402" width="4" height="6" fill="#fff" />
<rect x="598" y="410" width="1" height="4" fill="#fff" />
<rect x="602" y="402" width="4" height="6" fill="#fff" />
<rect x="604" y="410" width="1" height="4" fill="#fff" />
<rect x="607" y="402" width="4" height="6" fill="#fff" />
<rect x="609" y="410" width="1" height="4" fill="#fff" />
<rect x="613" y="402" width="4" height="6" fill="#fff" />
<rect x="614" y="410" width="2" height="4" fill="#fff" />
<rect x="619" y="402" width="4" height="6" fill="#fff" />
<rect x="621" y="410" width="1" height="4" fill="#fff" />
<rect x="625" y="402" width="4" height="6" fill="#fff" />
<rect x="627" y="410" width="1" height="4" fill="#fff" />
<rect x="631" y="402" width="4" height="6" fill="#fff" />
<rect x="633" y="410" width="1" height="4" fill="#fff" />
<rect x="637" y="402" width="4" height="6" fill="#fff" />
<rect x="638" y="410" width="2" height="4" fill="#fff" />
<rect x="643" y="402" width="4" height="6" fill="#fff" />
<rect x="645" y="410" width="1" height="4" fill="#fff" />
<rect x="649" y="402" width="4" height="6" fill="#fff" />
<rect x="651" y="410" width="1" height="4" fill="#fff" />
<rect x="655" y="402" width="4" height="6" fill="#fff" />
<rect x="657" y="410" width="1" height="4" fill="#fff" />
<rect x="660" y="402" width="4" height="6" fill="#fff" />
<rect x="661" y="410" width="2" height="4" fill="#fff" />
<rect x="666" y="402" width="4" height="6" fill="#fff" />
<rect x="668" y="410" width="1" height="4" fill="#fff" />
<rect x="672" y="402" width="4" height="6" fill="#fff" />
<rect x="674" y="410" width="1" height="4" fill="#fff" />
<rect x="678" y="402" width="4" height="6" fill="#fff" />
<rect x="680" y="410" width="1" height="4" fill="#fff" />
<rect x="684" y="402" width="4" height="6" fill="#fff" />
<rect x="685" y="410" width="2" height="4" fill="#fff" />
<rect x="690" y="402" width="4" height="6" fill="#fff" />
<rect x="692" y="410" width="1" height="4" fill="#fff" />
<rect x="695" y="402" width="5" height="6" fill="#fff" />
<rect x="697" y="408" width="1" height="6" fill="#fff" />
<rect x="702" y="402" width="4" height="6" fill="#fff" />
<rect x="704" y="410" width="1" height="4" fill="#fff" />
<rect x="708" y="402" width="4" height="6" fill="#fff" />
<rect x="709" y="410" width="2" height="4" fill="#fff" />
<rect x="714" y="402" width="4" height="6" fill="#fff" />
<rect x="716" y="410" width="1" height="4" fill="#fff" />
<rect x="719" y="402" width="5" height="6" fill="#fff" />
<rect x="721" y="408" width="1" height="6" fill="#fff" />
<rect x="725" y="402" width="4" height="6" fill="#fff" />
<rect x="727" y="410" width="1" height="4" fill="#fff" />
<rect x="731" y="402" width="4" height="6" fill="#fff" />
<rect x="732" y="410" width="2" height="4" fill="#fff" />
<rect x="549" y="401" width="10" height="1" fill="#000" />
<rect x="558" y="401" width="1" height="11" fill="#000" />
<rect x="557" y="411" width="2" height="1" fill="#000" />
<rect x="551" y="408" width="6" height="1" fill="#000" />
<rect x="551" y="408" width="1" height="4" fill="#000" />
<rect x="549" y="410" width="3" height="2" fill="#000" />
<rect x="556" y="408" width="1" height="8" fill="#000" />
<rect x="549" y="415" width="8" height="1" fill="#000" />
<rect x="743" y="401" width="10" height="1" fill="#000" />
<rect x="743" y="401" width="1" height="11" fill="#000" />
<rect x="743" y="411" width="2" height="1" fill="#000" />
<rect x="745" y="408" width="6" height="1" fill="#000" />
<rect x="750" y="408" width="1" height="4" fill="#000" />
<rect x="750" y="410" width="3" height="2" fill="#000" />
<rect x="745" y="408" width="1" height="8" fill="#000" />
<rect x="745" y="415" width="8" height="1" fill="#000" />
<rect x="563.5" y="416.5" width="30" height="7" fill="#fff" stroke="#000" stroke-width="1" rx="0"/>
<rect x="598.5" y="416.5" width="30" height="7" fill="#fff" stroke="#000" stroke-width="1" rx="0"/>
<rect x="637.5" y="416.5" width="29" height="7" fill="#fff" stroke="#000" stroke-width="1" rx="0"/>
<rect x="673.5" y="416.5" width="30" height="7" fill="#fff" stroke="#000" stroke-width="1" rx="0"/>
<rect x="709.5" y="416.5" width="30" height="7" fill="#fff" stroke="#000" stroke-width="1" rx="0"/>
<rect x="563" y="424" width="176" height="8" fill="#000" />
<rect x="564" y="432" width="174" height="7" fill="#000" />
<rect x="566" y="424" width="1" height="1" fill="#fff" />
<rect x="569" y="424" width="1" height="1" fill="#fff" />
<rect x="572" y="424" width="1" height="1" fill="#fff" />
<rect x="575" y="424" width="1" height="1" fill="#fff" />
<rect x="578" y="424" width="1" height="1" fill="#fff" />
<rect x="581" y="424" width="1" height="1" fill="#fff" />
<rect x="584" y="424" width="1" height="1" fill="#fff" />
<rect x="587" y="424" width="1" height="1" fill="#fff" />
<rect x="590" y="424" width="1" height="1" fill="#fff" />
<rect x="593" y="424" width="1" height="1" fill="#fff" />
<rect x="596" y="424" width="1" height="1" fill="#fff" />
<rect x="599" y="424" width="1" height="1" fill="#fff" />
<rect x="602" y="424" width="1" height="1" fill="#fff" />
<rect x="605" y="424" width="1" height="1" fill="#fff" />
<rect x="608" y="424" width="1" height="1" fill="#fff" />
<rect x="611" y="424" width="1" height="1" fill="#fff" />
<rect x="614" y="424" width="1" height="1" fill="#fff" />
<rect x="617" y="424" width="1" height="1" fill="#fff" />
<rect x="620" y="424" width="1" height="1" fill="#fff" />
<rect x="623" y="424" width="1" height="1" fill="#fff" />
<rect x="626" y="424" width="1" height="1" fill="#fff" />
<rect x="629" y="424" width="1" height="1" fill="#fff" />
<rect x="632" y="424" width="1" height="1" fill="#fff" />
<rect x="635" y="424" width="1" height="1" fill="#fff" />
<rect x="638" y="424" width="1" height="1" fill="#fff" />
<rect x="641" y="424" width="1" height="1" fill="#fff" />
<rect x="644" y="424" width="1" height="1" fill="#fff" />
<rect x="647" y="424" width="1" height="1" fill="#fff" />
<rect x="650" y="424" width="1" height="1" fill="#fff" />
<rect x="653" y="424" width="1" height="1" fill="#fff" />
<rect x="656" y="424" width="1" height="1" fill="#fff" />
<rect x="659" y="424" width="1" height="1" fill="#fff" />
<rect x="662" y="424" width="1" height="1" fill="#fff" />
<rect x="665" y="424" width="1" height="1" fill="#fff" />
<rect x="668" y="424" width="1" height="1" fill="#fff" />
<rect x="671" y="424" width="1" height="1" fill="#fff" />
<rect x="674" y="424" width="1" height="1" fill="#fff" />
<rect x="677" y="424" width="1" height="1" fill="#fff" />
<rect x="680" y="424" width="1" height="1" fill="#fff" />
<rect x="683" y="424" width="1" height="1" fill="#fff" />
<rect x="686" y="424" width="1" height="1" fill="#fff" />
<rect x="689" y="424" width="1" height="1" fill="#fff" />
<rect x="692" y="424" width="1" height="1" fill="#fff" />
<rect x="695" y="424" width="1" height="1" fill="#fff" />
<rect x="698" y="424" width="1" height="1" fill="#fff" />
<rect x="701" y="424" width="1" height="1" fill="#fff" />
<rect x="704" y="424" width="1" height="1" fill="#fff" />
<rect x="707" y="424" width="1" height="1" fill="#fff" />
<rect x="710" y="424" width="1" height="1" fill="#fff" />
<rect x="713" y="424" width="1" height="1" fill="#fff" />
<rect x="716" y="424" width="1" height="1" fill="#fff" />
<rect x="719" y="424" width="1" height="1" fill="#fff" />
<rect x="722" y="424" width="1" height="1" fill="#fff" />
<rect x="725" y="424" width="1" height="1" fill="#fff" />
<rect x="728" y="424" width="1" height="1" fill="#fff" />
<rect x="731" y="424" width="1" height="1" fill="#fff" />
<rect x="734" y="424" width="1" height="1" fill="#fff" />
<rect x="564" y="426" width="1" height="6" fill="#fff" />
<rect x="737" y="426" width="1" height="6" fill="#fff" />
<rect x="566" y="426" width="5" height="6" fill="#fff" />
<rect x="568" y="432" width="1" height="6" fill="#fff" />
<rect x="572" y="426" width="4" height="6" fill="#fff" />
<rect x="574" y="434" width="1" height="4" fill="#fff" />
<rect x="578" y="426" width="4" height="6" fill="#fff" />
<rect x="580" y="434" width="1" height="4" fill="#fff" />
<rect x="584" y="426" width="4" height="6" fill="#fff" />
<rect x="586" y="434" width="1" height="4" fill="#fff" />
<rect x="590" y="426" width="4" height="6" fill="#fff" />
<rect x="591" y="434" width="2" height="4" fill="#fff" />
<rect x="596" y="426" width="4" height="6" fill="#fff" />
<rect x="598" y="434" width="1" height="4" fill="#fff" />
<rect x="602" y="426" width="4" height="6" fill="#fff" />
<rect x="604" y="434" width="1" height="4" fill="#fff" />
<rect x="607" y="426" width="4" height="6" fill="#fff" />
<rect x="609" y="434" width="1" height="4" fill="#fff" />
<rect x="613" y="426" width="4" height="6" fill="#fff" />
<rect x="614" y="434" width="2" height="4" fill="#fff" />
<rect x="619" y="426" width="4" height="6" fill="#fff" />
<rect x="621" y="434" width="1" height="4" fill="#fff" />
<rect x="625" y="426" width="4" height="6" fill="#fff" />
<rect x="627" y="434" width="1" height="4" fill="#fff" />
<rect x="631" y="426" width="4" height="6" fill="#fff" />
<rect x="633" y="434" width="1" height="4" fill="#fff" />
<rect x="637" y="426" width="4" height="6" fill="#fff" />
<rect x="638" y="434" width="2" height="4" fill="#fff" />
<rect x="643" y="426" width="4" height="6" fill="#fff" />
<rect x="645" y="434" width="1" height="4" fill="#fff" />
<rect x="649" y="426" width="4" height="6" fill="#fff" />
<rect x="651" y="434" width="1" height="4" fill="#fff" />
<rect x="655" y="426" width="4" height="6" fill="#fff" />
<rect x="657" y="434" width="1" height="4" fill="#fff" />
<rect x="660" y="426" width="4" height="6" fill="#fff" />
<rect x="661" y="434" width="2" height="4" fill="#fff" />
<rect x="666" y="426" width="4" height="6" fill="#fff" />
<rect x="668" y="434" width="1" height="4" fill="#fff" />
<rect x="672" y="426" width="4" height="6" fill="#fff" />
<rect x="674" y="434" width="1" height="4" fill="#fff" />
<rect x="678" y="426" width="4" height="6" fill="#fff" />
<rect x="680" y="434" width="1" height="4" fill="#fff" />
<rect x="684" y="426" width="4" height="6" fill="#fff" />
<rect x="685" y="434" width="2" height="4" fill="#fff" />
<rect x="690" y="426" width="4" height="6" fill="#fff" />
<rect x="692" y="434" width="1" height="4" fill="#fff" />
<rect x="695" y="426" width="5" height="6" fill="#fff" />
<rect x="697" y="432" width="1" height="6" fill="#fff" />
<rect x="702" y="426" width="4" height="6" fill="#fff" />
<rect x="704" y="434" width="1" height="4" fill="#fff" />
<rect x="708" y="426" width="4" height="6" fill="#fff" />
<rect x="709" y="434" width="2" height="4" fill="#fff" />
<rect x="714" y="426" width="4" height="6" fill="#fff" />
<rect x="716" y="434" width="1" height="4" fill="#fff" />
<rect x="719" y="426" width="5" height="6" fill="#fff" />
<rect x="721" y="432" width="1" height="6" fill="#fff" />
<rect x="725" y="426" width="4" height="6" fill="#fff" />
<rect x="727" y="434" width="1" height="4" fill="#fff" />
<rect x="731" y="426" width="4" height="6" fill="#fff" />
<rect x="732" y="434" width="2" height="4" fill="#fff" />
<rect x="549" y="425" width="10" height="1" fill="#000" />
<rect x="558" y="425" width="1" height="11" fill="#000" />
<rect x="557" y="435" width="2" height="1" fill="#000" />
<rect x="551" y="432" width="6" height="1" fill="#000" />
<rect x="551" y="432" width="1" height="4" fill="#000" />
<rect x="549" y="434" width="3" height="2" fill="#000" />
<rect x="556" y="432" width="1" height="8" fill="#000" />
<rect x="549" y="439" width="8" height="1" fill="#000" />
<rect x="743" y="425" width="10" height="1" fill="#000" />
<rect x="743" y="425" width="1" height="11" fill="#000" />
<rect x="743" y="435" width="2" height="1" fill="#000" />
<rect x="745" y="432" width="6" height="1" fill="#000" />
<rect x="750" y="432" width="1" height="4" fill="#000" />
<rect x="750" y="434" width="3" height="2" fill="#000" />
<rect x="745" y="432" width="1" height="8" fill="#000" />
<rect x="745" y="439" width="8" height="1" fill="#000" />
<rect x="537" y="401" width="9" height="1" fill="#000" />
<rect x="756" y="401" width="8" height="1" fill="#000" />
<rect x="537" y="408" width="9" height="1" fill="#000" />
<rect x="756" y="408" width="8" height="1" fill="#000" />
<rect x="537" y="425" width="9" height="1" fill="#000" />
<rect x="756" y="425" width="8" height="1" fill="#000" />
<rect x="537" y="432" width="9" height="1" fill="#000" />
<rect x="756" y="432" width="8" height="1" fill="#000" />
<rect x="563" y="441" width="176" height="8" fill="#000" />
<rect x="564" y="449" width="174" height="7" fill="#000" />
<rect x="566" y="441" width="1" height="1" fill="#fff" />
<rect x="569" y="441" width="1" height="1" fill="#fff" />
<rect x="572" y="441" width="1" height="1" fill="#fff" />
<rect x="575" y="441" width="1" height="1" fill="#fff" />
<rect x="578" y="441" width="1" height="1" fill="#fff" />
<rect x="581" y="441" width="1" height="1" fill="#fff" />
<rect x="584" y="441" width="1" height="1" fill="#fff" />
<rect x="587" y="441" width="1" height="1" fill="#fff" />
<rect x="590" y="441" width="1" height="1" fill="#fff" />
<rect x="593" y="441" width="1" height="1" fill="#fff" />
<rect x="596" y="441" width="1" height="1" fill="#fff" />
<rect x="599" y="441" width="1" height="1" fill="#fff" />
<rect x="602" y="441" width="1" height="1" fill="#fff" />
<rect x="605" y="441" width="1" height="1" fill="#fff" />
<rect x="608" y="441" width="1" height="1" fill="#fff" />
<rect x="611" y="441" width="1" height="1" fill="#fff" />
<rect x="614" y="441" width="1" height="1" fill="#fff" />
<rect x="617" y="441" width="1" height="1" fill="#fff" />
<rect x="620" y="441" width="1" height="1" fill="#fff" />
<rect x="623" y="441" width="1" height="1" fill="#fff" />
<rect x="626" y="441" width="1" height="1" fill="#fff" />
<rect x="629" y="441" width="1" height="1" fill="#fff" />
<rect x="632" y="441" width="1" height="1" fill="#fff" />
<rect x="635" y="441" width="1" height="1" fill="#fff" />
<rect x="638" y="441" width="1" height="1" fill="#fff" />
<rect x="641" y="441" width="1" height="1" fill="#fff" />
<rect x="644" y="441" width="1" height="1" fill="#fff" />
<rect x="647" y="441" width="1" height="1" fill="#fff" />
<rect x="650" y="441" width="1" height="1" fill="#fff" />
<rect x="653" y="441" width="1" height="1" fill="#fff" />
<rect x="656" y="441" width="1" height="1" fill="#fff" />
<rect x="659" y="441" width="1" height="1" fill="#fff" />
<rect x="662" y="441" width="1" height="1" fill="#fff" />
<rect x="665" y="441" width="1" height="1" fill="#fff" />
<rect x="668" y="441" width="1" height="1" fill="#fff" />
<rect x="671" y="441" width="1" height="1" fill="#fff" />
<rect x="674" y="441" width="1" height="1" fill="#fff" />
<rect x="677" y="441" width="1" height="1" fill="#fff" />
<rect x="680" y="441" width="1" height="1" fill="#fff" />
<rect x="683" y="441" width="1" height="1" fill="#fff" />
<rect x="686" y="441" width="1" height="1" fill="#fff" />
<rect x="689" y="441" width="1" height="1" fill="#fff" />
<rect x="692" y="441" width="1" height="1" fill="#fff" />
<rect x="695" y="441" width="1" height="1" fill="#fff" />
<rect x="698" y="441" width="1" height="1" fill="#fff" />
<rect x="701" y="441" width="1" height="1" fill="#fff" />
<rect x="704" y="441" width="1" height="1" fill="#fff" />
<rect x="707" y="441" width="1" height="1" fill="#fff" />
<rect x="710" y="441" width="1" height="1" fill="#fff" />
<rect x="713" y="441" width="1" height="1" fill="#fff" />
<rect x="716" y="441" width="1" height="1" fill="#fff" />
<rect x="719" y="441" width="1" height="1" fill="#fff" />
<rect x="722" y="441" width="1" height="1" fill="#fff" />
<rect x="725" y="441" width="1" height="1" fill="#fff" />
<rect x="728" y="441" width="1" height="1" fill="#fff" />
<rect x="731" y="441" width="1" height="1" fill="#fff" />
<rect x="734" y="441" width="1" height="1" fill="#fff" />
<rect x="564" y="443" width="1" height="6" fill="#fff" />
<rect x="737" y="443" width="1" height="6" fill="#fff" />
<rect x="566" y="443" width="5" height="6" fill="#fff" />
<rect x="568" y="449" width="1" height="6" fill="#fff" />
<rect x="572" y="443" width="4" height="6" fill="#fff" />
<rect x="574" y="451" width="1" height="4" fill="#fff" />
<rect x="578" y="443" width="4" height="6" fill="#fff" />
<rect x="580" y="451" width="1" height="4" fill="#fff" />
<rect x="584" y="443" width="4" height="6" fill="#fff" />
<rect x="586" y="451" width="1" height="4" fill="#fff" />
<rect x="590" y="443" width="4" height="6" fill="#fff" />
<rect x="591" y="451" width="2" height="4" fill="#fff" />
<rect x="596" y="443" width="4" height="6" fill="#fff" />
<rect x="598" y="451" width="1" height="4" fill="#fff" />
<rect x="602" y="443" width="4" height="6" fill="#fff" />
<rect x="604" y="451" width="1" height="4" fill="#fff" />
<rect x="607" y="443" width="4" height="6" fill="#fff" />
<rect x="609" y="451" width="1" height="4" fill="#fff" />
<rect x="613" y="443" width="4" height="6" fill="#fff" />
<rect x="614" y="451" width="2" height="4" fill="#fff" />
<rect x="619" y="443" width="4" height="6" fill="#fff" />
<rect x="621" y="451" width="1" height="4" fill="#fff" />
<rect x="625" y="443" width="4" height="6" fill="#fff" />
<rect x="627" y="451" width="1" height="4" fill="#fff" />
<rect x="631" y="443" width="4" height="6" fill="#fff" />
<rect x="633" y="451" width="1" height="4" fill="#fff" />
<rect x="637" y="443" width="4" height="6" fill="#fff" />
<rect x="638" y="451" width="2" height="4" fill="#fff" />
<rect x="643" y="443" width="4" height="6" fill="#fff" />
<rect x="645" y="451" width="1" height="4" fill="#fff" />
<rect x="649" y="443" width="4" height="6" fill="#fff" />
<rect x="651" y="451" width="1" height="4" fill="#fff" />
<rect x="655" y="443" width="4" height="6" fill="#fff" />
<rect x="657" y="451" width="1" height="4" fill="#fff" />
<rect x="660" y="443" width="4" height="6" fill="#fff" />
<rect x="661" y="451" width="2" height="4" fill="#fff" />
<rect x="666" y="443" width="4" height="6" fill="#fff" />
<rect x="668" y="451" width="1" height="4" fill="#fff" />
<rect x="672" y="443" width="4" height="6" fill="#fff" />
<rect x="674" y="451" width="1" height="4" fill="#fff" />
<rect x="678" y="443" width="4" height="6" fill="#fff" />
<rect x="680" y="451" width="1" height="4" fill="#fff" />
<rect x="684" y="443" width="4" height="6" fill="#fff" />
<rect x="685" y="451" width="2" height="4" fill="#fff" />
<rect x="690" y="443" width="4" height="6" fill="#fff" />
<rect x="692" y="451" width="1" height="4" fill="#fff" />
<rect x="695" y="443" width="5" height="6" fill="#fff" />
<rect x="697" y="449" width="1" height="6" fill="#fff" />
<rect x="702" y="443" width="4" height="6" fill="#fff" />
<rect x="704" y="451" width="1" height="4" fill="#fff" />
<rect x="708" y="443" width="4" height="6" fill="#fff" />
<rect x="709" y="451" width="2" height="4" fill="#fff" />
<rect x="714" y="443" width="4" height="6" fill="#fff" />
<rect x="716" y="451" width="1" height="4" fill="#fff" />
<rect x="719" y="443" width="5" height="6" fill="#fff" />
<rect x="721" y="449" width="1" height="6" fill="#fff" />
<rect x="725" y="443" width="4" height="6" fill="#fff" />
<rect x="727" y="451" width="1" height="4" fill="#fff" />
<rect x="731" y="443" width="4" height="6" fill="#fff" />
<rect x="732" y="451" width="2" height="4" fill="#fff" />
<rect x="549" y="442" width="10" height="1" fill="#000" />
<rect x="558" y="442" width="1" height="11" fill="#000" />
<rect x="557" y="452" width="2" height="1" fill="#000" />
<rect x="551" y="449" width="6" height="1" fill="#000" />
<rect x="551" y="449" width="1" height="4" fill="#000" />
<rect x="549" y="451" width="3" height="2" fill="#000" />
<rect x="556" y="449" width="1" height="8" fill="#000" />
<rect x="549" y="456" width="8" height="1" fill="#000" />
<rect x="743" y="442" width="10" height="1" fill="#000" />
<rect x="743" y="442" width="1" height="11" fill="#000" />
<rect x="743" y="452" width="2" height="1" fill="#000" />
<rect x="745" y="449" width="6" height="1" fill="#000" />
<rect x="750" y="449" width="1" height="4" fill="#000" />
<rect x="750" y="451" width="3" height="2" fill="#000" />
<rect x="745" y="449" width="1" height="8" fill="#000" />
<rect x="745" y="456" width="8" height="1" fill="#000" />
<rect x="563.5" y="457.5" width="30" height="7" fill="#fff" stroke="#000" stroke-width="1" rx="0"/>
<rect x="598.5" y="457.5" width="30" height="7" fill="#fff" stroke="#000" stroke-width="1" rx="0"/>
<rect x="637.5" y="457.5" width="29" height="7" fill="#fff" stroke="#000" stroke-width="1" rx="0"/>
<rect x="673.5" y="457.5" width="30" height="7" fill="#fff" stroke="#000" stroke-width="1" rx="0"/>
<rect x="709.5" y="457.5" width="30" height="7" fill="#fff" stroke="#000" stroke-width="1" rx="0"/>
<rect x="563" y="465" width="176" height="8" fill="#000" />
<rect x="564" y="473" width="174" height="7" fill="#000" />
<rect x="566" y="465" width="1" height="1" fill="#fff" />
<rect x="569" y="465" width="1" height="1" fill="#fff" />
<rect x="572" y="465" width="1" height="1" fill="#fff" />
<rect x="575" y="465" width="1" height="1" fill="#fff" />
<rect x="578" y="465" width="1" height="1" fill="#fff" />
<rect x="581" y="465" width="1" height="1" fill="#fff" />
<rect x="584" y="465" width="1" height="1" fill="#fff" />
<rect x="587" y="465" width="1" height="1" fill="#fff" />
<rect x="590" y="465" width="1" height="1" fill="#fff" />
<rect x="593" y="465" width="1" height="1" fill="#fff" />
<rect x="596" y="465" width="1" height="1" fill="#fff" />
<rect x="599" y="465" width="1" height="1" fill="#fff" />
<rect x="602" y="465" width="1" height="1" fill="#fff" />
<rect x="605" y="465" width="1" height="1" fill="#fff" />
<rect x="608" y="465" width="1" height="1" fill="#fff" />
<rect x="611" y="465" width="1" height="1" fill="#fff" />
<rect x="614" y="465" width="1" height="1" fill="#fff" />
<rect x="617" y="465" width="1" height="1" fill="#fff" />
<rect x="620" y="465" width="1" height="1" fill="#fff" />
<rect x="623" y="465" width="1" height="1" fill="#fff" />
<rect x="626" y="465" width="1" height="1" fill="#fff" />
<rect x="629" y="465" width="1" height="1" fill="#fff" />
<rect x="632" y="465" width="1" height="1" fill="#fff" />
<rect x="635" y="465" width="1" height="1" fill="#fff" />
<rect x="638" y="465" width="1" height="1" fill="#fff" />
<rect x="641" y="465" width="1" height="1" fill="#fff" />
<rect x="644" y="465" width="1" height="1" fill="#fff" />
<rect x="647" y="465" width="1" height="1" fill="#fff" />
<rect x="650" y="465" width="1" height="1" fill="#fff" />
<rect x="653" y="465" width="1" height="1" fill="#fff" />
<rect x="656" y="465" width="1" height="1" fill="#fff" />
<rect x="659" y="465" width="1" height="1" fill="#fff" />
<rect x="662" y="465" width="1" height="1" fill="#fff" />
<rect x="665" y="465" width="1" height="1" fill="#fff" />
<rect x="668" y="465" width="1" height="1" fill="#fff" />
<rect x="671" y="465" width="1" height="1" fill="#fff" />
<rect x="674" y="465" width="1" height="1" fill="#fff" />
<rect x="677" y="465" width="1" height="1" fill="#fff" />
<rect x="680" y="465" width="1" height="1" fill="#fff" />
<rect x="683" y="465" width="1" height="1" fill="#fff" />
<rect x="686" y="465" width="1" height="1" fill="#fff" />
<rect x="689" y="465" width="1" height="1" fill="#fff" />
<rect x="692" y="465" width="1" height="1" fill="#fff" />
<rect x="695" y="465" width="1" height="1" fill="#fff" />
<rect x="698" y="465" width="1" height="1" fill="#fff" />
<rect x="701" y="465" width="1" height="1" fill="#fff" />
<rect x="704" y="465" width="1" height="1" fill="#fff" />
<rect x="707" y="465" width="1" height="1" fill="#fff" />
<rect x="710" y="465" width="1" height="1" fill="#fff" />
<rect x="713" y="465" width="1" height="1" fill="#fff" />
<rect x="716" y="465" width="1" height="1" fill="#fff" />
<rect x="719" y="465" width="1" height="1" fill="#fff" />
<rect x="722" y="465" width="1" height="1" fill="#fff" />
<rect x="725" y="465" width="1" height="1" fill="#fff" />
<rect x="728" y="465" width="1" height="1" fill="#fff" />
<rect x="731" y="465" width="1" height="1" fill="#fff" />
<rect x="734" y="465" width="1" height="1" fill="#fff" />
<rect x="564" y="467" width="1" height="6" fill="#fff" />
<rect x="737" y="467" width="1" height="6" fill="#fff" />
<rect x="566" y="467" width="5" height="6" fill="#fff" />
<rect x="568" y="473" width="1" height="6" fill="#fff" />
<rect x="572" y="467" width="4" height="6" fill="#fff" />
<rect x="574" y="475" width="1" height="4" fill="#fff" />
<rect x="578" y="467" width="4" height="6" fill="#fff" />
<rect x="580" y="475" width="1" height="4" fill="#fff" />
<rect x="584" y="467" width="4" height="6" fill="#fff" />
<rect x="586" y="475" width="1" height="4" fill="#fff" />
<rect x="590" y="467" width="4" height="6" fill="#fff" />
<rect x="591" y="475" width="2" height="4" fill="#fff" />
<rect x="596" y="467" width="4" height="6" fill="#fff" />
<rect x="598" y="475" width="1" height="4" fill="#fff" />
<rect x="602" y="467" width="4" height="6" fill="#fff" />
<rect x="604" y="475" width="1" height="4" fill="#fff" />
<rect x="607" y="467" width="4" height="6" fill="#fff" />
<rect x="609" y="475" width="1" height="4" fill="#fff" />
<rect x="613" y="467" width="4" height="6" fill="#fff" />
<rect x="614" y="475" width="2" height="4" fill="#fff" />
<rect x="619" y="467" width="4" height="6" fill="#fff" />
<rect x="621" y="475" width="1" height="4" fill="#fff" />
<rect x="625" y="467" width="4" height="6" fill="#fff" />
<rect x="627" y="475" width="1" height="4" fill="#fff" />
<rect x="631" y="467" width="4" height="6" fill="#fff" />
<rect x="633" y="475" width="1" height="4" fill="#fff" />
<rect x="637" y="467" width="4" height="6" fill="#fff" />
<rect x="638" y="475" width="2" height="4" fill="#fff" />
<rect x="643" y="467" width="4" height="6" fill="#fff" />
<rect x="645" y="475" width="1" height="4" fill="#fff" />
<rect x="649" y="467" width="4" height="6" fill="#fff" />
<rect x="651" y="475" width="1" height="4" fill="#fff" />
<rect x="655" y="467" width="4" height="6" fill="#fff" />
<rect x="657" y="475" width="1" height="4" fill="#fff" />
<rect x="660" y="467" width="4" height="6" fill="#fff" />
<rect x="661" y="475" width="2" height="4" fill="#fff" />
<rect x="666" y="467" width="4" height="6" fill="#fff" />
<rect x="668" y="475" width="1" height="4" fill="#fff" />
<rect x="672" y="467" width="4" height="6" fill="#fff" />
<rect x="674" y="475" width="1" height="4" fill="#fff" />
<rect x="678" y="467" width="4" height="6" fill="#fff" />
<rect x="680" y="475" width="1" height="4" fill="#fff" />
<rect x="684" y="467" width="4" height="6" fill="#fff" />
<rect x="685" y="475" width="2" height="4" fill="#fff" />
<rect x="690" y="467" width="4" height="6" fill="#fff" />
<rect x="692" y="475" width="1" height="4" fill="#fff" />
<rect x="695" y="467" width="5" height="6" fill="#fff" />
<rect x="697" y="473" width="1" height="6" fill="#fff" />
<rect x="702" y="467" width="4" height="6" fill="#fff" />
<rect x="704" y="475" width="1" height="4" fill="#fff" />
<rect x="708" y="467" width="4" height="6" fill="#fff" />
<rect x="709" y="475" width="2" height="4" fill="#fff" />
<rect x="714" y="467" width="4" height="6" fill="#fff" />
<rect x="716" y="475" width="1" height="4" fill="#fff" />
<rect x="719" y="467" width="5" height="6" fill="#fff" />
<rect x="721" y="473" width="1" height="6" fill="#fff" />
<rect x="725" y="467" width="4" height="6" fill="#fff" />
<rect x="727" y="475" width="1" height="4" fill="#fff" />
<rect x="731" y="467" width="4" height="6" fill="#fff" />
<rect x="732" y="475" width="2" height="4" fill="#fff" />
<rect x="549" y="466" width="10" height="1" fill="#000" />
<rect x="558" y="466" width="1" height="11" fill="#000" />
<rect x="557" y="476" width="2" height="1" fill="#000" />
<rect x="551" y="473" width="6" height="1" fill="#000" />
<rect x="551" y="473" width="1" height="4" fill="#000" />
<rect x="549" y="475" width="3" height="2" fill="#000" />
<rect x="556" y="473" width="1" height="8" fill="#000" />
<rect x="549" y="480" width="8" height="1" fill="#000" />
<rect x="743" y="466" width="10" height="1" fill="#000" />
<rect x="743" y="466" width="1" height="11" fill="#000" />
<rect x="743" y="476" width="2" height="1" fill="#000" />
<rect x="745" y="473" width="6" height="1" fill="#000" />
<rect x="750" y="473" width="1" height="4" fill="#000" />
<rect x="750" y="475" width="3" height="2" fill="#000" />
<rect x="745" y="473" width="1" height="8" fill="#000" />
<rect x="745" y="480" width="8" height="1" fill="#000" />
<rect x="537" y="443" width="9" height="1" fill="#000" />
<rect x="756" y="443" width="8" height="1" fill="#000" />
<rect x="537" y="450" width="9" height="1" fill="#000" />
<rect x="756" y="450" width="8" height="1" fill="#000" />
<rect x="537" y="467" width="9" height="1" fill="#000" />
<rect x="756" y="467" width="8" height="1" fill="#000" />
<rect x="537" y="474" width="9" height="1" fill="#000" />
<rect x="756" y="474" width="8" height="1" fill="#000" />
<rect x="563" y="483" width="176" height="8" fill="#000" />
<rect x="564" y="491" width="174" height="7" fill="#000" />
<rect x="566" y="483" width="1" height="1" fill="#fff" />
<rect x="569" y="483" width="1" height="1" fill="#fff" />
<rect x="572" y="483" width="1" height="1" fill="#fff" />
<rect x="575" y="483" width="1" height="1" fill="#fff" />
<rect x="578" y="483" width="1" height="1" fill="#fff" />
<rect x="581" y="483" width="1" height="1" fill="#fff" />
<rect x="584" y="483" width="1" height="1" fill="#fff" />
<rect x="587" y="483" width="1" height="1" fill="#fff" />
<rect x="590" y="483" width="1" height="1" fill="#fff" />
<rect x="593" y="483" width="1" height="1" fill="#fff" />
<rect x="596" y="483" width="1" height="1" fill="#fff" />
<rect x="599" y="483" width="1" height="1" fill="#fff" />
<rect x="602" y="483" width="1" height="1" fill="#fff" />
<rect x="605" y="483" width="1" height="1" fill="#fff" />
<rect x="608" y="483" width="1" height="1" fill="#fff" />
<rect x="611" y="483" width="1" height="1" fill="#fff" />
<rect x="614" y="483" width="1" height="1" fill="#fff" />
<rect x="617" y="483" width="1" height="1" fill="#fff" />
<rect x="620" y="483" width="1" height="1" fill="#fff" />
<rect x="623" y="483" width="1" height="1" fill="#fff" />
<rect x="626" y="483" width="1" height="1" fill="#fff" />
<rect x="629" y="483" width="1" height="1" fill="#fff" />
<rect x="632" y="483" width="1" height="1" fill="#fff" />
<rect x="635" y="483" width="1" height="1" fill="#fff" />
<rect x="638" y="483" width="1" height="1" fill="#fff" />
<rect x="641" y="483" width="1" height="1" fill="#fff" />
<rect x="644" y="483" width="1" height="1" fill="#fff" />
<rect x="647" y="483" width="1" height="1" fill="#fff" />
<rect x="650" y="483" width="1" height="1" fill="#fff" />
<rect x="653" y="483" width="1" height="1" fill="#fff" />
<rect x="656" y="483" width="1" height="1" fill="#fff" />
<rect x="659" y="483" width="1" height="1" fill="#fff" />
<rect x="662" y="483" width="1" height="1" fill="#fff" />
<rect x="665" y="483" width="1" height="1" fill="#fff" />
<rect x="668" y="483" width="1" height="1" fill="#fff" />
<rect x="671" y="483" width="1" height="1" fill="#fff" />
<rect x="674" y="483" width="1" height="1" fill="#fff" />
<rect x="677" y="483" width="1" height="1" fill="#fff" />
<rect x="680" y="483" width="1" height="1" fill="#fff" />
<rect x="683" y="483" width="1" height="1" fill="#fff" />
<rect x="686" y="483" width="1" height="1" fill="#fff" />
<rect x="689" y="483" width="1" height="1" fill="#fff" />
<rect x="692" y="483" width="1" height="1" fill="#fff" />
<rect x="695" y="483" width="1" height="1" fill="#fff" />
<rect x="698" y="483" width="1" height="1" fill="#fff" />
<rect x="701" y="483" width="1" height="1" fill="#fff" />
<rect x="704" y="483" width="1" height="1" fill="#fff" />
<rect x="707" y="483" width="1" height="1" fill="#fff" />
<rect x="710" y="483" width="1" height="1" fill="#fff" />
<rect x="713" y="483" width="1" height="1" fill="#fff" />
<rect x="716" y="483" width="1" height="1" fill="#fff" />
<rect x="719" y="483" width="1" height="1" fill="#fff" />
<rect x="722" y="483" width="1" height="1" fill="#fff" />
<rect x="725" y="483" width="1" height="1" fill="#fff" />
<rect x="728" y="483" width="1" height="1" fill="#fff" />
<rect x="731" y="483" width="1" height="1" fill="#fff" />
<rect x="734" y="483" width="1" height="1" fill="#fff" />
<rect x="564" y="485" width="1" height="6" fill="#fff" />
<rect x="737" y="485" width="1" height="6" fill="#fff" />
<rect x="566" y="485" width="5" height="6" fill="#fff" />
<rect x="568" y="491" width="1" height="6" fill="#fff" />
<rect x="572" y="485" width="4" height="6" fill="#fff" />
<rect x="574" y="493" width="1" height="4" fill="#fff" />
<rect x="578" y="485" width="4" height="6" fill="#fff" />
<rect x="580" y="493" width="1" height="4" fill="#fff" />
<rect x="584" y="485" width="4" height="6" fill="#fff" />
<rect x="586" y="493" width="1" height="4" fill="#fff" />
<rect x="590" y="485" width="4" height="6" fill="#fff" />
<rect x="591" y="493" width="2" height="4" fill="#fff" />
<rect x="596" y="485" width="4" height="6" fill="#fff" />
<rect x="598" y="493" width="1" height="4" fill="#fff" />
<rect x="602" y="485" width="4" height="6" fill="#fff" />
<rect x="604" y="493" width="1" height="4" fill="#fff" />
<rect x="607" y="485" width="4" height="6" fill="#fff" />
<rect x="609" y="493" width="1" height="4" fill="#fff" />
<rect x="613" y="485" width="4" height="6" fill="#fff" />
<rect x="614" y="493" width="2" height="4" fill="#fff" />
<rect x="619" y="485" width="4" height="6" fill="#fff" />
<rect x="621" y="493" width="1" height="4" fill="#fff" />
<rect x="625" y="485" width="4" height="6" fill="#fff" />
<rect x="627" y="493" width="1" height="4" fill="#fff" />
<rect x="631" y="485" width="4" height="6" fill="#fff" />
<rect x="633" y="493" width="1" height="4" fill="#fff" />
<rect x="637" y="485" width="4" height="6" fill="#fff" />
<rect x="638" y="493" width="2" height="4" fill="#fff" />
<rect x="643" y="485" width="4" height="6" fill="#fff" />
<rect x="645" y="493" width="1" height="4" fill="#fff" />
<rect x="649" y="485" width="4" height="6" fill="#fff" />
<rect x="651" y="493" width="1" height="4" fill="#fff" />
<rect x="655" y="485" width="4" height="6" fill="#fff" />
<rect x="657" y="493" width="1" height="4" fill="#fff" />
<rect x="660" y="485" width="4" height="6" fill="#fff" />
<rect x="661" y="493" width="2" height="4" fill="#fff" />
<rect x="666" y="485" width="4" height="6" fill="#fff" />
<rect x="668" y="493" width="1" height="4" fill="#fff" />
<rect x="672" y="485" width="4" height="6" fill="#fff" />
<rect x="674" y="493" width="1" height="4" fill="#fff" />
<rect x="678" y="485" width="4" height="6" fill="#fff" />
<rect x="680" y="493" width="1" height="4" fill="#fff" />
<rect x="684" y="485" width="4" height="6" fill="#fff" />
<rect x="685" y="493" width="2" height="4" fill="#fff" />
<rect x="690" y="485" width="4" height="6" fill="#fff" />
<rect x="692" y="493" width="1" height="4" fill="#fff" />
<rect x="695" y="485" width="5" height="6" fill="#fff" />
<rect x="697" y="491" width="1" height="6" fill="#fff" />
<rect x="702" y="485" width="4" height="6" fill="#fff" />
<rect x="704" y="493" width="1" height="4" fill="#fff" />
<rect x="708" y="485" width="4" height="6" fill="#fff" />
<rect x="709" y="493" width="2" height="4" fill="#fff" />
<rect x="714" y="485" width="4" height="6" fill="#fff" />
<rect x="716" y="493" width="1" height="4" fill="#fff" />
<rect x="719" y="485" width="5" height="6" fill="#fff" />
<rect x="721" y="491" width="1" height="6" fill="#fff" />
<rect x="725" y="485" width="4" height="6" fill="#fff" />
<rect x="727" y="493" width="1" height="4" fill="#fff" />
<rect x="731" y="485" width="4" height="6" fill="#fff" />
<rect x="732" y="493" width="2" height="4" fill="#fff" />
<rect x="549" y="484" width="10" height="1" fill="#000" />
<rect x="558" y="484" width="1" height="11" fill="#000" />
<rect x="557" y="494" width="2" height="1" fill="#000" />
<rect x="551" y="491" width="6" height="1" fill="#000" />
<rect x="551" y="491" width="1" height="4" fill="#000" />
<rect x="549" y="493" width="3" height="2" fill="#000" />
<rect x="556" y="491" width="1" height="8" fill="#000" />
<rect x="549" y="498" width="8" height="1" fill="#000" />
<rect x="743" y="484" width="10" height="1" fill="#000" />
<rect x="743" y="484" width="1" height="11" fill="#000" />
<rect x="743" y="494" width="2" height="1" fill="#000" />
<rect x="745" y="491" width="6" height="1" fill="#000" />
<rect x="750" y="491" width="1" height="4" fill="#000" />
<rect x="750" y="493" width="3" height="2" fill="#000" />
<rect x="745" y="491" width="1" height="8" fill="#000" />
<rect x="745" y="498" width="8" height="1" fill="#000" />
<rect x="563.5" y="499.5" width="30" height="7" fill="#fff" stroke="#000" stroke-width="1" rx="0"/>
<rect x="598.5" y="499.5" width="30" height="7" fill="#fff" stroke="#000" stroke-width="1" rx="0"/>
<rect x="637.5" y="499.5" width="29" height="7" fill="#fff" stroke="#000" stroke-width="1" rx="0"/>
<rect x="673.5" y="499.5" width="30" height="7" fill="#fff" stroke="#000" stroke-width="1" rx="0"/>
<rect x="709.5" y="499.5" width="30" height="7" fill="#fff" stroke="#000" stroke-width="1" rx="0"/>
<rect x="563" y="507" width="176" height="8" fill="#000" />
<rect x="564" y="515" width="174" height="7" fill="#000" />
<rect x="566" y="507" width="1" height="1" fill="#fff" />
<rect x="569" y="507" width="1" height="1" fill="#fff" />
<rect x="572" y="507" width="1" height="1" fill="#fff" />
<rect x="575" y="507" width="1" height="1" fill="#fff" />
<rect x="578" y="507" width="1" height="1" fill="#fff" />
<rect x="581" y="507" width="1" height="1" fill="#fff" />
<rect x="584" y="507" width="1" height="1" fill="#fff" />
<rect x="587" y="507" width="1" height="1" fill="#fff" />
<rect x="590" y="507" width="1" height="1" fill="#fff" />
<rect x="593" y="507" width="1" height="1" fill="#fff" />
<rect x="596" y="507" width="1" height="1" fill="#fff" />
<rect x="599" y="507" width="1" height="1" fill="#fff" />
<rect x="602" y="507" width="1" height="1" fill="#fff" />
<rect x="605" y="507" width="1" height="1" fill="#fff" />
<rect x="608" y="507" width="1" height="1" fill="#fff" />
<rect x="611" y="507" width="1" height="1" fill="#fff" />
<rect x="614" y="507" width="1" height="1" fill="#fff" />
<rect x="617" y="507" width="1" height="1" fill="#fff" />
<rect x="620" y="507" width="1" height="1" fill="#fff" />
<rect x="623" y="507" width="1" height="1" fill="#fff" />
<rect x="626" y="507" width="1" height="1" fill="#fff" />
<rect x="629" y="507" width="1" height="1" fill="#fff" />
<rect x="632" y="507" width="1" height="1" fill="#fff" />
<rect x="635" y="507" width="1" height="1" fill="#fff" />
<rect x="638" y="507" width="1" height="1" fill="#fff" />
<rect x="641" y="507" width="1" height="1" fill="#fff" />
<rect x="644" y="507" width="1" height="1" fill="#fff" />
<rect x="647" y="507" width="1" height="1" fill="#fff" />
<rect x="650" y="507" width="1" height="1" fill="#fff" />
<rect x="653" y="507" width="1" height="1" fill="#fff" />
<rect x="656" y="507" width="1" height="1" fill="#fff" />
<rect x="659" y="507" width="1" height="1" fill="#fff" />
<rect x="662" y="507" width="1" height="1" fill="#fff" />
<rect x="665" y="507" width="1" height="1" fill="#fff" />
<rect x="668" y="507" width="1" height="1" fill="#fff" />
<rect x="671" y="507" width="1" height="1" fill="#fff" />
<rect x="674" y="507" width="1" height="1" fill="#fff" />
<rect x="677" y="507" width="1" height="1" fill="#fff" />
<rect x="680" y="507" width="1" height="1" fill="#fff" />
<rect x="683" y="507" width="1" height="1" fill="#fff" />
<rect x="686" y="507" width="1" height="1" fill="#fff" />
<rect x="689" y="507" width="1" height="1" fill="#fff" />
<rect x="692" y="507" width="1" height="1" fill="#fff" />
<rect x="695" y="507" width="1" height="1" fill="#fff" />
<rect x="698" y="507" width="1" height="1" fill="#fff" />
<rect x="701" y="507" width="1" height="1" fill="#fff" />
<rect x="704" y="507" width="1" height="1" fill="#fff" />
<rect x="707" y="507" width="1" height="1" fill="#fff" />
<rect x="710" y="507" width="1" height="1" fill="#fff" />
<rect x="713" y="507" width="1" height="1" fill="#fff" />
<rect x="716" y="507" width="1" height="1" fill="#fff" />
<rect x="719" y="507" width="1" height="1" fill="#fff" />
<rect x="722" y="507" width="1" height="1" fill="#fff" />
<rect x="725" y="507" width="1" height="1" fill="#fff" />
<rect x="728" y="507" width="1" height="1" fill="#fff" />
<rect x="731" y="507" width="1" height="1" fill="#fff" />
<rect x="734" y="507" width="1" height="1" fill="#fff" />
<rect x="564" y="509" width="1" height="6" fill="#fff" />
<rect x="737" y="509" width="1" height="6" fill="#fff" />
<rect x="566" y="509" width="5" height="6" fill="#fff" />
<rect x="568" y="515" width="1" height="6" fill="#fff" />
<rect x="572" y="509" width="4" height="6" fill="#fff" />
<rect x="574" y="517" width="1" height="4" fill="#fff" />
<rect x="578" y="509" width="4" height="6" fill="#fff" />
<rect x="580" y="517" width="1" height="4" fill="#fff" />
<rect x="584" y="509" width="4" height="6" fill="#fff" />
<rect x="586" y="517" width="1" height="4" fill="#fff" />
<rect x="590" y="509" width="4" height="6" fill="#fff" />
<rect x="591" y="517" width="2" height="4" fill="#fff" />
<rect x="596" y="509" width="4" height="6" fill="#fff" />
<rect x="598" y="517" width="1" height="4" fill="#fff" />
<rect x="602" y="509" width="4" height="6" fill="#fff" />
<rect x="604" y="517" width="1" height="4" fill="#fff" />
<rect x="607" y="509" width="4" height="6" fill="#fff" />
<rect x="609" y="517" width="1" height="4" fill="#fff" />
<rect x="613" y="509" width="4" height="6" fill="#fff" />
<rect x="614" y="517" width="2" height="4" fill="#fff" />
<rect x="619" y="509" width="4" height="6" fill="#fff" />
<rect x="621" y="517" width="1" height="4" fill="#fff" />
<rect x="625" y="509" width="4" height="6" fill="#fff" />
<rect x="627" y="517" width="1" height="4" fill="#fff" />
<rect x="631" y="509" width="4" height="6" fill="#fff" />
<rect x="633" y="517" width="1" height="4" fill="#fff" />
<rect x="637" y="509" width="4" height="6" fill="#fff" />
<rect x="638" y="517" width="2" height="4" fill="#fff" />
<rect x="643" y="509" width="4" height="6" fill="#fff" />
<rect x="645" y="517" width="1" height="4" fill="#fff" />
<rect x="649" y="509" width="4" height="6" fill="#fff" />
<rect x="651" y="517" width="1" height="4" fill="#fff" />
<rect x="655" y="509" width="4" height="6" fill="#fff" />
<rect x="657" y="517" width="1" height="4" fill="#fff" />
<rect x="660" y="509" width="4" height="6" fill="#fff" />
<rect x="661" y="517" width="2" height="4" fill="#fff" />
<rect x="666" y="509" width="4" height="6" fill="#fff" />
<rect x="668" y="517" width="1" height="4" fill="#fff" />
<rect x="672" y="509" width="4" height="6" fill="#fff" />
<rect x="674" y="517" width="1" height="4" fill="#fff" />
<rect x="678" y="509" width="4" height="6" fill="#fff" />
<rect x="680" y="517" width="1" height="4" fill="#fff" />
<rect x="684" y="509" width="4" height="6" fill="#fff" />
<rect x="685" y="517" width="2" height="4" fill="#fff" />
<rect x="690" y="509" width="4" height="6" fill="#fff" />
<rect x="692" y="517" width="1" height="4" fill="#fff" />
<rect x="695" y="509" width="5" height="6" fill="#fff" />
<rect x="697" y="515" width="1" height="6" fill="#fff" />
<rect x="702" y="509" width="4" height="6" fill="#fff" />
<rect x="704" y="517" width="1" height="4" fill="#fff" />
<rect x="708" y="509" width="4" height="6" fill="#fff" />
<rect x="709" y="517" width="2" height="4" fill="#fff" />
<rect x="714" y="509" width="4" height="6" fill="#fff" />
<rect x="716" y="517" width="1" height="4" fill="#fff" />
<rect x="719" y="509" width="5" height="6" fill="#fff" />
<rect x="721" y="515" width="1" height="6" fill="#fff" />
<rect x="725" y="509" width="4" height="6" fill="#fff" />
<rect x="727" y="517" width="1" height="4" fill="#fff" />
<rect x="731" y="509" width="4" height="6" fill="#fff" />
<rect x="732" y="517" width="2" height="4" fill="#fff" />
<rect x="549" y="508" width="10" height="1" fill="#000" />
<rect x="558" y="508" width="1" height="11" fill="#000" />
<rect x="557" y="518" width="2" height="1" fill="#000" />
<rect x="551" y="515" width="6" height="1" fill="#000" />
<rect x="551" y="515" width="1" height="4" fill="#000" />
<rect x="549" y="517" width="3" height="2" fill="#000" />
<rect x="556" y="515" width="1" height="8" fill="#000" />
<rect x="549" y="522" width="8" height="1" fill="#000" />
<rect x="743" y="508" width="10" height="1" fill="#000" />
<rect x="743" y="508" width="1" height="11" fill="#000" />
<rect x="743" y="518" width="2" height="1" fill="#000" />
<rect x="745" y="515" width="6" height="1" fill="#000" />
<rect x="750" y="515" width="1" height="4" fill="#000" />
<rect x="750" y="517" width="3" height="2" fill="#000" />
<rect x="745" y="515" width="1" height="8" fill="#000" />
<rect x="745" y="522" width="8" height="1" fill="#000" />
<rect x="537" y="484" width="9" height="1" fill="#000" />
<rect x="756" y="484" width="8" height="1" fill="#000" />
<rect x="537" y="491" width="9" height="1" fill="#000" />
<rect x="756" y="491" width="8" height="1" fill="#000" />
<rect x="537" y="508" width="9" height="1" fill="#000" />
<rect x="756" y="508" width="8" height="1" fill="#000" />
<rect x="537" y="515" width="9" height="1" fill="#000" />
<rect x="756" y="515" width="8" height="1" fill="#000" />
<rect x="545" y="357" width="1" height="167" fill="#000" />
<rect x="547" y="357" width="2" height="167" fill="#000" />
<rect x="753" y="357" width="3" height="167" fill="#000" />
<rect x="545.5" y="374.5" width="14" height="7" fill="#fff" stroke="#000" stroke-width="1" rx="0"/>
<rect x="743.5" y="374.5" width="14" height="7" fill="#fff" stroke="#000" stroke-width="1" rx="0"/>
<rect x="545.5" y="416.5" width="14" height="7" fill="#fff" stroke="#000" stroke-width="1" rx="0"/>
<rect x="743.5" y="416.5" width="14" height="7" fill="#fff" stroke="#000" stroke-width="1" rx="0"/>
<rect x="545.5" y="457.5" width="14" height="7" fill="#fff" stroke="#000" stroke-width="1" rx="0"/>
<rect x="743.5" y="457.5" width="14" height="7" fill="#fff" stroke="#000" stroke-width="1" rx="0"/>
<rect x="545.5" y="499.5" width="14" height="7" fill="#fff" stroke="#000" stroke-width="1" rx="0"/>
<rect x="743.5" y="499.5" width="14" height="7" fill="#fff" stroke="#000" stroke-width="1" rx="0"/>
<rect x="537" y="357" width="227" height="1" fill="#000" />
<rect x="537" y="398" width="227" height="1" fill="#000" />
<rect x="537" y="440" width="227" height="1" fill="#000" />
<rect x="537" y="481" width="227" height="1" fill="#000" />
<rect x="537" y="523" width="227" height="1" fill="#000" />
<rect x="537" y="357" width="1" height="167" fill="#000" />
<rect x="763" y="357" width="1" height="167" fill="#000" />
<rect x="623.5" y="391.5" width="57" height="15" rx="3" fill="#fff" stroke="#000" stroke-width="1"/>
<text transform="translate(650.75,403.7) scale(0.74,1)" font-family="Liberation Sans, Arial, Helvetica, sans-serif" font-size="13.8" letter-spacing="3.11" text-anchor="middle" fill="#000" font-weight="normal" stroke="#000" stroke-width="0.2">BANK 0</text>
<rect x="623.5" y="473.5" width="57" height="15" rx="3" fill="#fff" stroke="#000" stroke-width="1"/>
<text transform="translate(650.75,485.7) scale(0.74,1)" font-family="Liberation Sans, Arial, Helvetica, sans-serif" font-size="13.8" letter-spacing="3.11" text-anchor="middle" fill="#000" font-weight="normal" stroke="#000" stroke-width="0.2">BANK 1</text>
<rect x="799.5" y="343.5" width="18" height="38" fill="#fff" stroke="#000" stroke-width="1" rx="0"/>
<rect x="803.5" y="349.9" width="10" height="4.2" fill="#fff" stroke="#000" stroke-width="1" rx="0"/>
<rect x="803" y="356" width="11" height="6.2" fill="#000" />
<rect x="803" y="364" width="11" height="5.6" fill="#000" />
<rect x="803" y="371" width="11" height="5.6" fill="#000" />
<rect x="812.7" y="344.7" width="4.2" height="3.2" fill="#fff" stroke="#000" stroke-width="1" rx="0"/>
<rect x="804" y="419" width="31" height="37" fill="#000" />
<rect x="828" y="415" width="7" height="46" fill="#000" />
<rect x="831" y="413" width="4" height="50" fill="#000" />
<rect x="798.5" y="428.3" width="4.4" height="7.8" fill="#fff" stroke="#000" stroke-width="1" rx="0"/>
<rect x="798.5" y="439.7" width="4.4" height="7.6" fill="#fff" stroke="#000" stroke-width="1" rx="0"/>
<rect x="802.6" y="426.6" width="1.8" height="7" fill="#fff" stroke="#000" stroke-width="0.8" rx="0"/>
<rect x="803" y="435" width="2" height="5" fill="#fff" />
<rect x="802.6" y="441" width="1.8" height="8.6" fill="#fff" stroke="#000" stroke-width="0.8" rx="0"/>
<path d="M534.8,594 H590.8 V597.4 H594.2 V597.5 H597 V653.8 H594 V660 H537 V656.4 H531 V599.8 H534.8 Z" fill="#000"/>
<rect x="537" y="594" width="1" height="3" fill="#fff" />
<rect x="551" y="594" width="1" height="3" fill="#fff" />
<rect x="554" y="594" width="1" height="3" fill="#fff" />
<rect x="557" y="594" width="1" height="3" fill="#fff" />
<rect x="568" y="594" width="1" height="3" fill="#fff" />
<rect x="571" y="594" width="1" height="3" fill="#fff" />
<rect x="574" y="594" width="1" height="3" fill="#fff" />
<rect x="577" y="594" width="1" height="3" fill="#fff" />
<rect x="588" y="594" width="1" height="3" fill="#fff" />
<rect x="545" y="657" width="1" height="3" fill="#fff" />
<rect x="548" y="657" width="1" height="3" fill="#fff" />
<rect x="551" y="657" width="1" height="3" fill="#fff" />
<rect x="562" y="657" width="1" height="3" fill="#fff" />
<rect x="565" y="657" width="1" height="3" fill="#fff" />
<rect x="568" y="657" width="1" height="3" fill="#fff" />
<rect x="579" y="657" width="1" height="3" fill="#fff" />
<rect x="582" y="657" width="1" height="3" fill="#fff" />
<rect x="585" y="657" width="1" height="3" fill="#fff" />
<rect x="588" y="657" width="1" height="3" fill="#fff" />
<rect x="531" y="605" width="3" height="1" fill="#fff" />
<rect x="531" y="608" width="3" height="1" fill="#fff" />
<rect x="531" y="611" width="3" height="1" fill="#fff" />
<rect x="531" y="625" width="3" height="1" fill="#fff" />
<rect x="531" y="628" width="3" height="1" fill="#fff" />
<rect x="531" y="639" width="3" height="1" fill="#fff" />
<rect x="531" y="642" width="3" height="1" fill="#fff" />
<rect x="531" y="645" width="3" height="1" fill="#fff" />
<rect x="594" y="600" width="3" height="1" fill="#fff" />
<rect x="594" y="603" width="3" height="1" fill="#fff" />
<rect x="594" y="606" width="3" height="1" fill="#fff" />
<rect x="594" y="621" width="3" height="1" fill="#fff" />
<rect x="594" y="624" width="3" height="1" fill="#fff" />
<rect x="594" y="634" width="3" height="1" fill="#fff" />
<rect x="594" y="637" width="3" height="1" fill="#fff" />
<rect x="594" y="640" width="3" height="1" fill="#fff" />
<rect x="594" y="651" width="3" height="1" fill="#fff" />
<rect x="540" y="648" width="3" height="5" fill="#fff" />
<rect x="539" y="649" width="1" height="3" fill="#fff" />
<rect x="667" y="627" width="126" height="43" fill="#000" />
<rect x="667" y="642" width="1" height="12" fill="#fff" />
<rect x="716" y="641" width="28" height="14" fill="#fff" />
<text transform="translate(731.1,652.3) scale(0.72,1)" font-family="Liberation Sans, Arial, Helvetica, sans-serif" font-size="13.8" letter-spacing="3.06" text-anchor="middle" fill="#000" font-weight="normal" stroke="#000" stroke-width="0.2">KBD</text>
<rect x="605" y="542" width="112" height="24" fill="#000" />
<rect x="606" y="543" width="110" height="22" fill="#fff" />
<rect x="605" y="549" width="112" height="1" fill="#000" />
<rect x="608" y="545" width="5" height="1" fill="#000" />
<rect x="607" y="546" width="1" height="1" fill="#000" />
<rect x="613" y="546" width="1" height="1" fill="#000" />
<rect x="607" y="547" width="7" height="1" fill="#000" />
<rect x="609" y="548" width="3" height="1" fill="#000" />
<rect x="607" y="552" width="7" height="2" fill="#000" />
<rect x="617" y="545" width="5" height="1" fill="#000" />
<rect x="616" y="546" width="1" height="1" fill="#000" />
<rect x="622" y="546" width="1" height="1" fill="#000" />
<rect x="616" y="547" width="7" height="1" fill="#000" />
<rect x="618" y="548" width="3" height="1" fill="#000" />
<rect x="616" y="552" width="7" height="2" fill="#000" />
<rect x="626" y="545" width="5" height="1" fill="#000" />
<rect x="625" y="546" width="1" height="1" fill="#000" />
<rect x="631" y="546" width="1" height="1" fill="#000" />
<rect x="625" y="547" width="7" height="1" fill="#000" />
<rect x="627" y="548" width="3" height="1" fill="#000" />
<rect x="625" y="552" width="7" height="2" fill="#000" />
<rect x="635" y="545" width="5" height="1" fill="#000" />
<rect x="634" y="546" width="1" height="1" fill="#000" />
<rect x="640" y="546" width="1" height="1" fill="#000" />
<rect x="634" y="547" width="7" height="1" fill="#000" />
<rect x="636" y="548" width="3" height="1" fill="#000" />
<rect x="634" y="552" width="7" height="2" fill="#000" />
<rect x="644" y="545" width="5" height="1" fill="#000" />
<rect x="643" y="546" width="1" height="1" fill="#000" />
<rect x="649" y="546" width="1" height="1" fill="#000" />
<rect x="643" y="547" width="7" height="1" fill="#000" />
<rect x="645" y="548" width="3" height="1" fill="#000" />
<rect x="643" y="552" width="7" height="2" fill="#000" />
<rect x="653" y="545" width="5" height="1" fill="#000" />
<rect x="652" y="546" width="1" height="1" fill="#000" />
<rect x="658" y="546" width="1" height="1" fill="#000" />
<rect x="652" y="547" width="7" height="1" fill="#000" />
<rect x="654" y="548" width="3" height="1" fill="#000" />
<rect x="652" y="552" width="7" height="2" fill="#000" />
<rect x="663" y="545" width="5" height="1" fill="#000" />
<rect x="662" y="546" width="1" height="1" fill="#000" />
<rect x="668" y="546" width="1" height="1" fill="#000" />
<rect x="662" y="547" width="7" height="1" fill="#000" />
<rect x="664" y="548" width="3" height="1" fill="#000" />
<rect x="662" y="552" width="7" height="2" fill="#000" />
<rect x="672" y="545" width="5" height="1" fill="#000" />
<rect x="671" y="546" width="1" height="1" fill="#000" />
<rect x="677" y="546" width="1" height="1" fill="#000" />
<rect x="671" y="547" width="7" height="1" fill="#000" />
<rect x="673" y="548" width="3" height="1" fill="#000" />
<rect x="671" y="552" width="7" height="2" fill="#000" />
<rect x="681" y="545" width="5" height="1" fill="#000" />
<rect x="680" y="546" width="1" height="1" fill="#000" />
<rect x="686" y="546" width="1" height="1" fill="#000" />
<rect x="680" y="547" width="7" height="1" fill="#000" />
<rect x="682" y="548" width="3" height="1" fill="#000" />
<rect x="680" y="552" width="7" height="2" fill="#000" />
<rect x="690" y="545" width="5" height="1" fill="#000" />
<rect x="689" y="546" width="1" height="1" fill="#000" />
<rect x="695" y="546" width="1" height="1" fill="#000" />
<rect x="689" y="547" width="7" height="1" fill="#000" />
<rect x="691" y="548" width="3" height="1" fill="#000" />
<rect x="689" y="552" width="7" height="2" fill="#000" />
<rect x="699" y="545" width="5" height="1" fill="#000" />
<rect x="698" y="546" width="1" height="1" fill="#000" />
<rect x="704" y="546" width="1" height="1" fill="#000" />
<rect x="698" y="547" width="7" height="1" fill="#000" />
<rect x="700" y="548" width="3" height="1" fill="#000" />
<rect x="698" y="552" width="7" height="2" fill="#000" />
<rect x="708" y="545" width="5" height="1" fill="#000" />
<rect x="707" y="546" width="1" height="1" fill="#000" />
<rect x="713" y="546" width="1" height="1" fill="#000" />
<rect x="707" y="547" width="7" height="1" fill="#000" />
<rect x="709" y="548" width="3" height="1" fill="#000" />
<rect x="707" y="552" width="7" height="2" fill="#000" />
<rect x="611" y="555" width="7" height="8" fill="#000" />
<rect x="612" y="556" width="5" height="6" fill="#fff" />
<rect x="620" y="555" width="7" height="8" fill="#000" />
<rect x="621" y="556" width="5" height="6" fill="#fff" />
<rect x="630" y="555" width="7" height="8" fill="#000" />
<rect x="631" y="556" width="5" height="6" fill="#fff" />
<rect x="639" y="555" width="7" height="8" fill="#000" />
<rect x="640" y="556" width="5" height="6" fill="#fff" />
<rect x="648" y="555" width="7" height="8" fill="#000" />
<rect x="649" y="556" width="5" height="6" fill="#fff" />
<rect x="658" y="555" width="7" height="8" fill="#000" />
<rect x="659" y="556" width="5" height="6" fill="#fff" />
<rect x="667" y="555" width="7" height="8" fill="#000" />
<rect x="668" y="556" width="5" height="6" fill="#fff" />
<rect x="676" y="555" width="7" height="8" fill="#000" />
<rect x="677" y="556" width="5" height="6" fill="#fff" />
<rect x="686" y="555" width="7" height="8" fill="#000" />
<rect x="687" y="556" width="5" height="6" fill="#fff" />
<rect x="695" y="555" width="7" height="8" fill="#000" />
<rect x="696" y="556" width="5" height="6" fill="#fff" />
<rect x="704" y="555" width="7" height="8" fill="#000" />
<rect x="705" y="556" width="5" height="6" fill="#fff" />
<rect x="605" y="558" width="1" height="3" fill="#fff" />
<rect x="606" y="556" width="3" height="2" fill="#000" />
<rect x="606" y="561" width="3" height="2" fill="#000" />
<rect x="607" y="556" width="2" height="7" fill="#000" />
<rect x="606" y="558" width="1" height="3" fill="#fff" />
<rect x="716" y="558" width="1" height="3" fill="#fff" />
<rect x="713" y="556" width="3" height="2" fill="#000" />
<rect x="713" y="561" width="3" height="2" fill="#000" />
<rect x="713" y="556" width="2" height="7" fill="#000" />
<rect x="715" y="558" width="1" height="3" fill="#fff" />
<rect x="740" y="682" width="77.2" height="39" fill="#000" />
<text transform="translate(767.8,695.8) scale(1,1)" font-family="Liberation Sans, Arial, Helvetica, sans-serif" font-size="8.8" letter-spacing="1.00" text-anchor="start" fill="#fff" font-weight="bold" stroke="#fff" stroke-width="0.5">DALLAS</text>
<text transform="translate(767.8,705.2) scale(0.98,1)" font-family="Liberation Sans, Arial, Helvetica, sans-serif" font-size="7.8" letter-spacing="1.07" text-anchor="start" fill="#fff" font-weight="bold" stroke="#fff" stroke-width="0.5">DS1287</text>
<text transform="translate(767.8,713) scale(0.97,1)" font-family="Liberation Sans, Arial, Helvetica, sans-serif" font-size="7.4" letter-spacing="0.98" text-anchor="start" fill="#fff" font-weight="bold" stroke="#fff" stroke-width="0.5">REAL TIME</text>
<g fill="#fff" stroke="none">
<ellipse cx="756" cy="701.5" rx="8" ry="8.5"/>
<path d="M748,694 V691.5 L749.5,690 H753 V692 L750,693 L749,694.5 Z"/>
<path d="M764,694 V691 L762.5,689 H761.5 L759,691 L761.5,692.5 L762.8,694.5 Z"/>
<path d="M751.6,708 L748.8,713.4 L749.4,714.4 H751 L754.6,709 Z"/>
<path d="M760.4,708 L763.2,713.4 L762.6,714.4 H761 L757.4,709 Z"/>
</g>
<rect x="755" y="693" width="1" height="10" fill="#000" />
<rect x="755" y="701" width="9" height="1" fill="#000" />
<rect x="756" y="700" width="4" height="3" fill="#000" />
</g>
</svg>
</body></html>
